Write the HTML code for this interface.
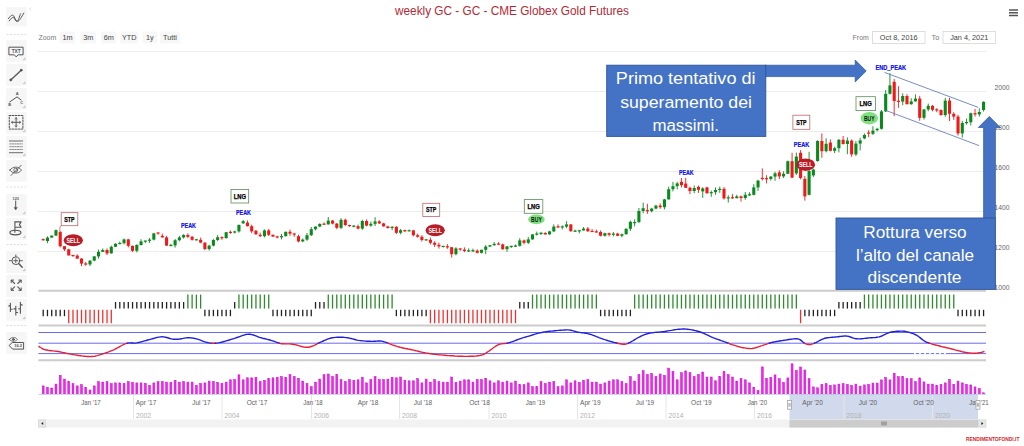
<!DOCTYPE html>
<html lang="it"><head><meta charset="utf-8"><title>weekly GC - GC - CME Globex Gold Futures</title>
<style>html,body{margin:0;padding:0;background:#fff;overflow:hidden}svg{display:block}</style></head>
<body>
<svg width="1024" height="446" viewBox="0 0 1024 446" font-family="Liberation Sans, sans-serif">
<rect width="1024" height="446" fill="#fff"/>
<g id="grid" stroke="#ececec" stroke-width="1">
<line x1="38.4" x2="986" y1="51.5" y2="51.5"/>
<line x1="38.4" x2="986" y1="91.5" y2="91.5"/>
<line x1="38.4" x2="986" y1="131.5" y2="131.5"/>
<line x1="38.4" x2="986" y1="171.5" y2="171.5"/>
<line x1="38.4" x2="986" y1="211.5" y2="211.5"/>
<line x1="38.4" x2="986" y1="251.5" y2="251.5"/>
</g>
<g id="ylabels" font-size="7.2" fill="#666" text-anchor="start">
<text x="994.6" y="90.2" textLength="15" lengthAdjust="spacingAndGlyphs">2000</text>
<text x="994.6" y="130.2" textLength="15" lengthAdjust="spacingAndGlyphs">1800</text>
<text x="994.6" y="170.2" textLength="15" lengthAdjust="spacingAndGlyphs">1600</text>
<text x="994.6" y="210.2" textLength="15" lengthAdjust="spacingAndGlyphs">1400</text>
<text x="994.6" y="250.2" textLength="15" lengthAdjust="spacingAndGlyphs">1200</text>
<text x="994.6" y="290.2" textLength="15" lengthAdjust="spacingAndGlyphs">1000</text>
</g>
<g id="candles">
<line x1="43.20" x2="43.20" y1="238.6" y2="240.6" stroke="#f01818" stroke-width="0.9"/>
<rect x="41.65" y="239.1" width="3.1" height="1.2" fill="#f01818"/>
<line x1="47.46" x2="47.46" y1="236.4" y2="243.2" stroke="#0a8a1e" stroke-width="0.9"/>
<rect x="45.91" y="237.6" width="3.1" height="3.4" fill="#0a8a1e"/>
<line x1="51.71" x2="51.71" y1="235.4" y2="237.8" stroke="#0a8a1e" stroke-width="0.9"/>
<rect x="50.16" y="235.6" width="3.1" height="2.0" fill="#0a8a1e"/>
<line x1="55.97" x2="55.97" y1="229.4" y2="235.8" stroke="#0a8a1e" stroke-width="0.9"/>
<rect x="54.42" y="230.2" width="3.1" height="5.4" fill="#0a8a1e"/>
<line x1="60.22" x2="60.22" y1="231.4" y2="247.4" stroke="#f01818" stroke-width="0.9"/>
<rect x="58.67" y="231.8" width="3.1" height="14.4" fill="#f01818"/>
<line x1="64.47" x2="64.47" y1="246.0" y2="251.0" stroke="#f01818" stroke-width="0.9"/>
<rect x="62.92" y="246.2" width="3.1" height="3.2" fill="#f01818"/>
<line x1="68.73" x2="68.73" y1="248.8" y2="255.6" stroke="#f01818" stroke-width="0.9"/>
<rect x="67.18" y="249.4" width="3.1" height="6.0" fill="#f01818"/>
<line x1="72.98" x2="72.98" y1="255.2" y2="256.8" stroke="#f01818" stroke-width="0.9"/>
<rect x="71.44" y="254.9" width="3.1" height="1.2" fill="#f01818"/>
<line x1="77.24" x2="77.24" y1="254.4" y2="258.8" stroke="#f01818" stroke-width="0.9"/>
<rect x="75.69" y="255.6" width="3.1" height="3.0" fill="#f01818"/>
<line x1="81.50" x2="81.50" y1="258.0" y2="266.2" stroke="#f01818" stroke-width="0.9"/>
<rect x="79.95" y="258.6" width="3.1" height="5.0" fill="#f01818"/>
<line x1="85.75" x2="85.75" y1="262.0" y2="265.8" stroke="#f01818" stroke-width="0.9"/>
<rect x="84.20" y="263.4" width="3.1" height="1.2" fill="#f01818"/>
<line x1="90.00" x2="90.00" y1="260.4" y2="266.0" stroke="#0a8a1e" stroke-width="0.9"/>
<rect x="88.45" y="260.6" width="3.1" height="3.8" fill="#0a8a1e"/>
<line x1="94.26" x2="94.26" y1="256.2" y2="261.2" stroke="#0a8a1e" stroke-width="0.9"/>
<rect x="92.71" y="256.4" width="3.1" height="4.2" fill="#0a8a1e"/>
<line x1="98.52" x2="98.52" y1="249.6" y2="258.6" stroke="#0a8a1e" stroke-width="0.9"/>
<rect x="96.97" y="251.8" width="3.1" height="4.6" fill="#0a8a1e"/>
<line x1="102.77" x2="102.77" y1="248.4" y2="252.0" stroke="#0a8a1e" stroke-width="0.9"/>
<rect x="101.22" y="250.0" width="3.1" height="1.8" fill="#0a8a1e"/>
<line x1="107.03" x2="107.03" y1="248.4" y2="255.0" stroke="#f01818" stroke-width="0.9"/>
<rect x="105.48" y="250.0" width="3.1" height="3.4" fill="#f01818"/>
<line x1="111.28" x2="111.28" y1="245.6" y2="253.6" stroke="#0a8a1e" stroke-width="0.9"/>
<rect x="109.73" y="246.8" width="3.1" height="6.6" fill="#0a8a1e"/>
<line x1="115.53" x2="115.53" y1="243.2" y2="247.0" stroke="#0a8a1e" stroke-width="0.9"/>
<rect x="113.98" y="243.8" width="3.1" height="3.0" fill="#0a8a1e"/>
<line x1="119.79" x2="119.79" y1="241.6" y2="244.4" stroke="#0a8a1e" stroke-width="0.9"/>
<rect x="118.24" y="242.9" width="3.1" height="1.2" fill="#0a8a1e"/>
<line x1="124.05" x2="124.05" y1="238.6" y2="244.4" stroke="#0a8a1e" stroke-width="0.9"/>
<rect x="122.50" y="239.4" width="3.1" height="3.8" fill="#0a8a1e"/>
<line x1="128.30" x2="128.30" y1="238.8" y2="247.4" stroke="#f01818" stroke-width="0.9"/>
<rect x="126.75" y="239.4" width="3.1" height="6.4" fill="#f01818"/>
<line x1="132.56" x2="132.56" y1="245.6" y2="252.0" stroke="#f01818" stroke-width="0.9"/>
<rect x="131.00" y="245.8" width="3.1" height="5.0" fill="#f01818"/>
<line x1="136.81" x2="136.81" y1="244.2" y2="252.4" stroke="#0a8a1e" stroke-width="0.9"/>
<rect x="135.26" y="245.0" width="3.1" height="5.8" fill="#0a8a1e"/>
<line x1="141.06" x2="141.06" y1="239.2" y2="245.6" stroke="#0a8a1e" stroke-width="0.9"/>
<rect x="139.51" y="241.4" width="3.1" height="3.6" fill="#0a8a1e"/>
<line x1="145.32" x2="145.32" y1="240.6" y2="243.0" stroke="#0a8a1e" stroke-width="0.9"/>
<rect x="143.77" y="240.5" width="3.1" height="1.2" fill="#0a8a1e"/>
<line x1="149.57" x2="149.57" y1="238.0" y2="243.0" stroke="#0a8a1e" stroke-width="0.9"/>
<rect x="148.02" y="239.6" width="3.1" height="1.2" fill="#0a8a1e"/>
<line x1="153.83" x2="153.83" y1="232.8" y2="240.4" stroke="#0a8a1e" stroke-width="0.9"/>
<rect x="152.28" y="233.4" width="3.1" height="6.2" fill="#0a8a1e"/>
<line x1="158.08" x2="158.08" y1="232.6" y2="234.8" stroke="#f01818" stroke-width="0.9"/>
<rect x="156.53" y="232.4" width="3.1" height="1.2" fill="#f01818"/>
<line x1="162.34" x2="162.34" y1="233.6" y2="237.6" stroke="#f01818" stroke-width="0.9"/>
<rect x="160.79" y="235.8" width="3.1" height="1.6" fill="#f01818"/>
<line x1="166.59" x2="166.59" y1="235.8" y2="246.0" stroke="#f01818" stroke-width="0.9"/>
<rect x="165.04" y="237.4" width="3.1" height="8.2" fill="#f01818"/>
<line x1="170.85" x2="170.85" y1="243.8" y2="246.2" stroke="#0a8a1e" stroke-width="0.9"/>
<rect x="169.30" y="244.9" width="3.1" height="1.2" fill="#0a8a1e"/>
<line x1="175.11" x2="175.11" y1="239.0" y2="247.6" stroke="#0a8a1e" stroke-width="0.9"/>
<rect x="173.56" y="240.2" width="3.1" height="5.2" fill="#0a8a1e"/>
<line x1="179.36" x2="179.36" y1="235.8" y2="241.4" stroke="#0a8a1e" stroke-width="0.9"/>
<rect x="177.81" y="237.4" width="3.1" height="2.8" fill="#0a8a1e"/>
<line x1="183.62" x2="183.62" y1="234.2" y2="238.6" stroke="#0a8a1e" stroke-width="0.9"/>
<rect x="182.06" y="235.0" width="3.1" height="2.4" fill="#0a8a1e"/>
<line x1="187.87" x2="187.87" y1="233.4" y2="238.0" stroke="#f01818" stroke-width="0.9"/>
<rect x="186.32" y="235.0" width="3.1" height="1.8" fill="#f01818"/>
<line x1="192.12" x2="192.12" y1="236.0" y2="240.6" stroke="#f01818" stroke-width="0.9"/>
<rect x="190.57" y="236.8" width="3.1" height="3.0" fill="#f01818"/>
<line x1="196.38" x2="196.38" y1="239.2" y2="240.4" stroke="#0a8a1e" stroke-width="0.9"/>
<rect x="194.83" y="239.2" width="3.1" height="1.2" fill="#0a8a1e"/>
<line x1="200.63" x2="200.63" y1="237.6" y2="243.2" stroke="#f01818" stroke-width="0.9"/>
<rect x="199.08" y="239.8" width="3.1" height="2.8" fill="#f01818"/>
<line x1="204.89" x2="204.89" y1="242.4" y2="250.2" stroke="#f01818" stroke-width="0.9"/>
<rect x="203.34" y="242.6" width="3.1" height="6.4" fill="#f01818"/>
<line x1="209.14" x2="209.14" y1="244.8" y2="250.6" stroke="#0a8a1e" stroke-width="0.9"/>
<rect x="207.59" y="245.6" width="3.1" height="3.4" fill="#0a8a1e"/>
<line x1="213.40" x2="213.40" y1="238.8" y2="246.4" stroke="#0a8a1e" stroke-width="0.9"/>
<rect x="211.85" y="240.0" width="3.1" height="5.6" fill="#0a8a1e"/>
<line x1="217.65" x2="217.65" y1="235.0" y2="241.2" stroke="#0a8a1e" stroke-width="0.9"/>
<rect x="216.10" y="237.2" width="3.1" height="2.8" fill="#0a8a1e"/>
<line x1="221.91" x2="221.91" y1="236.4" y2="239.8" stroke="#f01818" stroke-width="0.9"/>
<rect x="220.36" y="237.1" width="3.1" height="1.2" fill="#f01818"/>
<line x1="226.17" x2="226.17" y1="232.0" y2="238.4" stroke="#0a8a1e" stroke-width="0.9"/>
<rect x="224.62" y="232.2" width="3.1" height="6.0" fill="#0a8a1e"/>
<line x1="230.42" x2="230.42" y1="230.6" y2="233.8" stroke="#f01818" stroke-width="0.9"/>
<rect x="228.87" y="231.8" width="3.1" height="1.2" fill="#f01818"/>
<line x1="234.68" x2="234.68" y1="230.8" y2="233.4" stroke="#0a8a1e" stroke-width="0.9"/>
<rect x="233.12" y="231.4" width="3.1" height="1.2" fill="#0a8a1e"/>
<line x1="238.93" x2="238.93" y1="224.4" y2="232.6" stroke="#0a8a1e" stroke-width="0.9"/>
<rect x="237.38" y="225.0" width="3.1" height="6.4" fill="#0a8a1e"/>
<line x1="243.19" x2="243.19" y1="220.0" y2="223.6" stroke="#0a8a1e" stroke-width="0.9"/>
<rect x="241.63" y="221.2" width="3.1" height="2.2" fill="#0a8a1e"/>
<line x1="247.44" x2="247.44" y1="220.4" y2="226.4" stroke="#f01818" stroke-width="0.9"/>
<rect x="245.89" y="222.6" width="3.1" height="3.6" fill="#f01818"/>
<line x1="251.69" x2="251.69" y1="224.6" y2="233.0" stroke="#f01818" stroke-width="0.9"/>
<rect x="250.14" y="226.2" width="3.1" height="5.2" fill="#f01818"/>
<line x1="255.95" x2="255.95" y1="230.0" y2="235.0" stroke="#f01818" stroke-width="0.9"/>
<rect x="254.40" y="230.8" width="3.1" height="3.4" fill="#f01818"/>
<line x1="260.20" x2="260.20" y1="232.6" y2="237.0" stroke="#f01818" stroke-width="0.9"/>
<rect x="258.65" y="234.8" width="3.1" height="1.4" fill="#f01818"/>
<line x1="264.46" x2="264.46" y1="229.4" y2="237.4" stroke="#0a8a1e" stroke-width="0.9"/>
<rect x="262.91" y="230.4" width="3.1" height="5.8" fill="#0a8a1e"/>
<line x1="268.71" x2="268.71" y1="228.8" y2="236.0" stroke="#f01818" stroke-width="0.9"/>
<rect x="267.16" y="230.4" width="3.1" height="4.4" fill="#f01818"/>
<line x1="272.97" x2="272.97" y1="234.6" y2="236.8" stroke="#f01818" stroke-width="0.9"/>
<rect x="271.42" y="234.8" width="3.1" height="1.8" fill="#f01818"/>
<line x1="277.23" x2="277.23" y1="235.8" y2="238.4" stroke="#f01818" stroke-width="0.9"/>
<rect x="275.68" y="236.3" width="3.1" height="1.2" fill="#f01818"/>
<line x1="281.48" x2="281.48" y1="234.0" y2="239.4" stroke="#0a8a1e" stroke-width="0.9"/>
<rect x="279.93" y="236.1" width="3.1" height="1.2" fill="#0a8a1e"/>
<line x1="285.74" x2="285.74" y1="231.6" y2="236.4" stroke="#0a8a1e" stroke-width="0.9"/>
<rect x="284.19" y="231.8" width="3.1" height="4.4" fill="#0a8a1e"/>
<line x1="289.99" x2="289.99" y1="229.6" y2="235.8" stroke="#f01818" stroke-width="0.9"/>
<rect x="288.44" y="231.8" width="3.1" height="1.8" fill="#f01818"/>
<line x1="294.25" x2="294.25" y1="232.8" y2="236.8" stroke="#f01818" stroke-width="0.9"/>
<rect x="292.69" y="233.5" width="3.1" height="1.2" fill="#f01818"/>
<line x1="298.50" x2="298.50" y1="234.6" y2="242.4" stroke="#f01818" stroke-width="0.9"/>
<rect x="296.95" y="236.2" width="3.1" height="5.2" fill="#f01818"/>
<line x1="302.75" x2="302.75" y1="238.4" y2="242.2" stroke="#0a8a1e" stroke-width="0.9"/>
<rect x="301.20" y="239.6" width="3.1" height="1.8" fill="#0a8a1e"/>
<line x1="307.01" x2="307.01" y1="233.0" y2="240.8" stroke="#0a8a1e" stroke-width="0.9"/>
<rect x="305.46" y="235.2" width="3.1" height="4.4" fill="#0a8a1e"/>
<line x1="311.26" x2="311.26" y1="227.0" y2="236.0" stroke="#0a8a1e" stroke-width="0.9"/>
<rect x="309.71" y="229.2" width="3.1" height="6.0" fill="#0a8a1e"/>
<line x1="315.52" x2="315.52" y1="226.4" y2="230.4" stroke="#0a8a1e" stroke-width="0.9"/>
<rect x="313.97" y="226.6" width="3.1" height="2.6" fill="#0a8a1e"/>
<line x1="319.77" x2="319.77" y1="223.2" y2="227.2" stroke="#0a8a1e" stroke-width="0.9"/>
<rect x="318.22" y="224.0" width="3.1" height="2.6" fill="#0a8a1e"/>
<line x1="324.03" x2="324.03" y1="222.4" y2="224.6" stroke="#f01818" stroke-width="0.9"/>
<rect x="322.48" y="223.6" width="3.1" height="1.2" fill="#f01818"/>
<line x1="328.28" x2="328.28" y1="217.0" y2="224.6" stroke="#0a8a1e" stroke-width="0.9"/>
<rect x="326.73" y="220.6" width="3.1" height="3.8" fill="#0a8a1e"/>
<line x1="332.54" x2="332.54" y1="220.0" y2="224.4" stroke="#f01818" stroke-width="0.9"/>
<rect x="330.99" y="220.6" width="3.1" height="3.0" fill="#f01818"/>
<line x1="336.79" x2="336.79" y1="223.0" y2="229.2" stroke="#f01818" stroke-width="0.9"/>
<rect x="335.24" y="223.6" width="3.1" height="4.2" fill="#f01818"/>
<line x1="341.05" x2="341.05" y1="218.2" y2="229.0" stroke="#0a8a1e" stroke-width="0.9"/>
<rect x="339.50" y="219.8" width="3.1" height="8.0" fill="#0a8a1e"/>
<line x1="345.31" x2="345.31" y1="218.6" y2="226.2" stroke="#f01818" stroke-width="0.9"/>
<rect x="343.75" y="219.8" width="3.1" height="5.2" fill="#f01818"/>
<line x1="349.56" x2="349.56" y1="224.8" y2="226.8" stroke="#f01818" stroke-width="0.9"/>
<rect x="348.01" y="225.0" width="3.1" height="1.2" fill="#f01818"/>
<line x1="353.81" x2="353.81" y1="225.0" y2="227.4" stroke="#0a8a1e" stroke-width="0.9"/>
<rect x="352.26" y="225.6" width="3.1" height="1.2" fill="#0a8a1e"/>
<line x1="358.07" x2="358.07" y1="224.6" y2="229.4" stroke="#f01818" stroke-width="0.9"/>
<rect x="356.52" y="226.2" width="3.1" height="2.4" fill="#f01818"/>
<line x1="362.32" x2="362.32" y1="219.8" y2="229.8" stroke="#0a8a1e" stroke-width="0.9"/>
<rect x="360.77" y="221.0" width="3.1" height="7.6" fill="#0a8a1e"/>
<line x1="366.58" x2="366.58" y1="219.4" y2="226.4" stroke="#f01818" stroke-width="0.9"/>
<rect x="365.03" y="221.0" width="3.1" height="4.6" fill="#f01818"/>
<line x1="370.83" x2="370.83" y1="221.6" y2="226.8" stroke="#0a8a1e" stroke-width="0.9"/>
<rect x="369.28" y="223.8" width="3.1" height="1.8" fill="#0a8a1e"/>
<line x1="375.09" x2="375.09" y1="217.2" y2="226.0" stroke="#0a8a1e" stroke-width="0.9"/>
<rect x="373.54" y="221.4" width="3.1" height="2.4" fill="#0a8a1e"/>
<line x1="379.34" x2="379.34" y1="220.2" y2="224.0" stroke="#f01818" stroke-width="0.9"/>
<rect x="377.79" y="221.4" width="3.1" height="2.0" fill="#f01818"/>
<line x1="383.60" x2="383.60" y1="222.8" y2="226.6" stroke="#f01818" stroke-width="0.9"/>
<rect x="382.05" y="223.4" width="3.1" height="3.0" fill="#f01818"/>
<line x1="387.85" x2="387.85" y1="225.8" y2="228.6" stroke="#f01818" stroke-width="0.9"/>
<rect x="386.30" y="226.4" width="3.1" height="1.6" fill="#f01818"/>
<line x1="392.11" x2="392.11" y1="226.2" y2="230.2" stroke="#0a8a1e" stroke-width="0.9"/>
<rect x="390.56" y="226.8" width="3.1" height="1.2" fill="#0a8a1e"/>
<line x1="396.36" x2="396.36" y1="226.2" y2="234.0" stroke="#f01818" stroke-width="0.9"/>
<rect x="394.81" y="226.8" width="3.1" height="6.0" fill="#f01818"/>
<line x1="400.62" x2="400.62" y1="229.0" y2="234.4" stroke="#0a8a1e" stroke-width="0.9"/>
<rect x="399.07" y="230.2" width="3.1" height="2.6" fill="#0a8a1e"/>
<line x1="404.88" x2="404.88" y1="229.6" y2="232.0" stroke="#f01818" stroke-width="0.9"/>
<rect x="403.32" y="230.1" width="3.1" height="1.2" fill="#f01818"/>
<line x1="409.13" x2="409.13" y1="229.6" y2="231.4" stroke="#0a8a1e" stroke-width="0.9"/>
<rect x="407.58" y="230.2" width="3.1" height="1.2" fill="#0a8a1e"/>
<line x1="413.38" x2="413.38" y1="229.8" y2="236.4" stroke="#f01818" stroke-width="0.9"/>
<rect x="411.83" y="230.4" width="3.1" height="4.8" fill="#f01818"/>
<line x1="417.64" x2="417.64" y1="233.6" y2="237.6" stroke="#f01818" stroke-width="0.9"/>
<rect x="416.09" y="235.2" width="3.1" height="1.6" fill="#f01818"/>
<line x1="421.89" x2="421.89" y1="235.2" y2="241.6" stroke="#f01818" stroke-width="0.9"/>
<rect x="420.34" y="236.8" width="3.1" height="3.2" fill="#f01818"/>
<line x1="426.15" x2="426.15" y1="239.0" y2="240.6" stroke="#0a8a1e" stroke-width="0.9"/>
<rect x="424.60" y="239.3" width="3.1" height="1.2" fill="#0a8a1e"/>
<line x1="430.40" x2="430.40" y1="237.6" y2="244.4" stroke="#f01818" stroke-width="0.9"/>
<rect x="428.85" y="239.8" width="3.1" height="3.0" fill="#f01818"/>
<line x1="434.66" x2="434.66" y1="241.2" y2="247.0" stroke="#f01818" stroke-width="0.9"/>
<rect x="433.11" y="242.8" width="3.1" height="2.0" fill="#f01818"/>
<line x1="438.91" x2="438.91" y1="242.6" y2="248.6" stroke="#f01818" stroke-width="0.9"/>
<rect x="437.36" y="244.8" width="3.1" height="1.6" fill="#f01818"/>
<line x1="443.17" x2="443.17" y1="246.2" y2="247.6" stroke="#0a8a1e" stroke-width="0.9"/>
<rect x="441.62" y="245.8" width="3.1" height="1.2" fill="#0a8a1e"/>
<line x1="447.42" x2="447.42" y1="244.2" y2="248.8" stroke="#f01818" stroke-width="0.9"/>
<rect x="445.87" y="246.2" width="3.1" height="1.2" fill="#f01818"/>
<line x1="451.68" x2="451.68" y1="247.2" y2="257.6" stroke="#f01818" stroke-width="0.9"/>
<rect x="450.13" y="247.2" width="3.1" height="7.0" fill="#f01818"/>
<line x1="455.94" x2="455.94" y1="247.2" y2="255.4" stroke="#0a8a1e" stroke-width="0.9"/>
<rect x="454.38" y="248.4" width="3.1" height="5.8" fill="#0a8a1e"/>
<line x1="460.19" x2="460.19" y1="248.2" y2="250.8" stroke="#f01818" stroke-width="0.9"/>
<rect x="458.64" y="248.4" width="3.1" height="1.2" fill="#f01818"/>
<line x1="464.44" x2="464.44" y1="247.4" y2="252.2" stroke="#f01818" stroke-width="0.9"/>
<rect x="462.89" y="249.6" width="3.1" height="1.4" fill="#f01818"/>
<line x1="468.70" x2="468.70" y1="248.4" y2="252.0" stroke="#0a8a1e" stroke-width="0.9"/>
<rect x="467.15" y="250.3" width="3.1" height="1.2" fill="#0a8a1e"/>
<line x1="472.95" x2="472.95" y1="248.6" y2="252.0" stroke="#0a8a1e" stroke-width="0.9"/>
<rect x="471.40" y="250.2" width="3.1" height="1.2" fill="#0a8a1e"/>
<line x1="477.21" x2="477.21" y1="249.4" y2="253.4" stroke="#f01818" stroke-width="0.9"/>
<rect x="475.66" y="250.6" width="3.1" height="2.2" fill="#f01818"/>
<line x1="481.46" x2="481.46" y1="249.6" y2="253.6" stroke="#0a8a1e" stroke-width="0.9"/>
<rect x="479.91" y="249.8" width="3.1" height="3.0" fill="#0a8a1e"/>
<line x1="485.72" x2="485.72" y1="245.0" y2="254.2" stroke="#0a8a1e" stroke-width="0.9"/>
<rect x="484.17" y="246.6" width="3.1" height="3.2" fill="#0a8a1e"/>
<line x1="489.97" x2="489.97" y1="245.0" y2="246.8" stroke="#0a8a1e" stroke-width="0.9"/>
<rect x="488.42" y="245.2" width="3.1" height="1.4" fill="#0a8a1e"/>
<line x1="494.23" x2="494.23" y1="242.2" y2="245.8" stroke="#0a8a1e" stroke-width="0.9"/>
<rect x="492.68" y="243.8" width="3.1" height="1.4" fill="#0a8a1e"/>
<line x1="498.48" x2="498.48" y1="242.2" y2="244.6" stroke="#f01818" stroke-width="0.9"/>
<rect x="496.93" y="243.5" width="3.1" height="1.2" fill="#f01818"/>
<line x1="502.74" x2="502.74" y1="243.6" y2="249.8" stroke="#f01818" stroke-width="0.9"/>
<rect x="501.19" y="244.4" width="3.1" height="4.8" fill="#f01818"/>
<line x1="507.00" x2="507.00" y1="246.2" y2="251.8" stroke="#0a8a1e" stroke-width="0.9"/>
<rect x="505.44" y="246.4" width="3.1" height="2.8" fill="#0a8a1e"/>
<line x1="511.25" x2="511.25" y1="245.8" y2="248.0" stroke="#0a8a1e" stroke-width="0.9"/>
<rect x="509.70" y="245.8" width="3.1" height="1.2" fill="#0a8a1e"/>
<line x1="515.50" x2="515.50" y1="244.6" y2="247.0" stroke="#0a8a1e" stroke-width="0.9"/>
<rect x="513.96" y="245.5" width="3.1" height="1.2" fill="#0a8a1e"/>
<line x1="519.76" x2="519.76" y1="238.2" y2="246.6" stroke="#0a8a1e" stroke-width="0.9"/>
<rect x="518.21" y="240.4" width="3.1" height="5.4" fill="#0a8a1e"/>
<line x1="524.01" x2="524.01" y1="239.6" y2="244.4" stroke="#f01818" stroke-width="0.9"/>
<rect x="522.47" y="240.4" width="3.1" height="2.4" fill="#f01818"/>
<line x1="528.27" x2="528.27" y1="237.0" y2="244.0" stroke="#0a8a1e" stroke-width="0.9"/>
<rect x="526.72" y="239.4" width="3.1" height="3.4" fill="#0a8a1e"/>
<line x1="532.52" x2="532.52" y1="234.2" y2="239.6" stroke="#0a8a1e" stroke-width="0.9"/>
<rect x="530.98" y="234.4" width="3.1" height="5.0" fill="#0a8a1e"/>
<line x1="536.78" x2="536.78" y1="231.6" y2="235.6" stroke="#0a8a1e" stroke-width="0.9"/>
<rect x="535.23" y="233.5" width="3.1" height="1.2" fill="#0a8a1e"/>
<line x1="541.03" x2="541.03" y1="231.8" y2="235.0" stroke="#0a8a1e" stroke-width="0.9"/>
<rect x="539.49" y="232.8" width="3.1" height="1.2" fill="#0a8a1e"/>
<line x1="545.29" x2="545.29" y1="232.2" y2="234.6" stroke="#f01818" stroke-width="0.9"/>
<rect x="543.74" y="233.0" width="3.1" height="1.4" fill="#f01818"/>
<line x1="549.54" x2="549.54" y1="230.8" y2="234.6" stroke="#0a8a1e" stroke-width="0.9"/>
<rect x="548.00" y="231.4" width="3.1" height="3.0" fill="#0a8a1e"/>
<line x1="553.80" x2="553.80" y1="224.4" y2="232.2" stroke="#0a8a1e" stroke-width="0.9"/>
<rect x="552.25" y="226.6" width="3.1" height="4.8" fill="#0a8a1e"/>
<line x1="558.06" x2="558.06" y1="224.4" y2="228.0" stroke="#f01818" stroke-width="0.9"/>
<rect x="556.51" y="226.3" width="3.1" height="1.2" fill="#f01818"/>
<line x1="562.31" x2="562.31" y1="225.4" y2="229.4" stroke="#0a8a1e" stroke-width="0.9"/>
<rect x="560.76" y="226.3" width="3.1" height="1.2" fill="#0a8a1e"/>
<line x1="566.57" x2="566.57" y1="221.2" y2="228.2" stroke="#0a8a1e" stroke-width="0.9"/>
<rect x="565.02" y="224.4" width="3.1" height="2.2" fill="#0a8a1e"/>
<line x1="570.82" x2="570.82" y1="224.2" y2="231.8" stroke="#f01818" stroke-width="0.9"/>
<rect x="569.27" y="224.4" width="3.1" height="6.8" fill="#f01818"/>
<line x1="575.08" x2="575.08" y1="229.6" y2="232.0" stroke="#0a8a1e" stroke-width="0.9"/>
<rect x="573.53" y="230.6" width="3.1" height="1.2" fill="#0a8a1e"/>
<line x1="579.33" x2="579.33" y1="229.8" y2="233.4" stroke="#0a8a1e" stroke-width="0.9"/>
<rect x="577.78" y="230.2" width="3.1" height="1.2" fill="#0a8a1e"/>
<line x1="583.59" x2="583.59" y1="227.0" y2="230.6" stroke="#0a8a1e" stroke-width="0.9"/>
<rect x="582.04" y="228.6" width="3.1" height="1.8" fill="#0a8a1e"/>
<line x1="587.84" x2="587.84" y1="227.0" y2="232.0" stroke="#f01818" stroke-width="0.9"/>
<rect x="586.29" y="228.6" width="3.1" height="2.6" fill="#f01818"/>
<line x1="592.10" x2="592.10" y1="229.0" y2="232.0" stroke="#f01818" stroke-width="0.9"/>
<rect x="590.55" y="230.9" width="3.1" height="1.2" fill="#f01818"/>
<line x1="596.35" x2="596.35" y1="229.6" y2="232.8" stroke="#f01818" stroke-width="0.9"/>
<rect x="594.80" y="231.3" width="3.1" height="1.2" fill="#f01818"/>
<line x1="600.61" x2="600.61" y1="230.4" y2="236.4" stroke="#f01818" stroke-width="0.9"/>
<rect x="599.06" y="232.0" width="3.1" height="3.8" fill="#f01818"/>
<line x1="604.86" x2="604.86" y1="232.6" y2="236.6" stroke="#0a8a1e" stroke-width="0.9"/>
<rect x="603.31" y="233.2" width="3.1" height="2.6" fill="#0a8a1e"/>
<line x1="609.12" x2="609.12" y1="232.6" y2="236.4" stroke="#f01818" stroke-width="0.9"/>
<rect x="607.57" y="233.2" width="3.1" height="1.6" fill="#f01818"/>
<line x1="613.37" x2="613.37" y1="232.0" y2="236.4" stroke="#0a8a1e" stroke-width="0.9"/>
<rect x="611.82" y="233.6" width="3.1" height="1.2" fill="#0a8a1e"/>
<line x1="617.62" x2="617.62" y1="232.8" y2="236.2" stroke="#f01818" stroke-width="0.9"/>
<rect x="616.08" y="233.6" width="3.1" height="2.2" fill="#f01818"/>
<line x1="621.88" x2="621.88" y1="233.6" y2="237.4" stroke="#0a8a1e" stroke-width="0.9"/>
<rect x="620.33" y="234.2" width="3.1" height="1.6" fill="#0a8a1e"/>
<line x1="626.13" x2="626.13" y1="228.2" y2="234.8" stroke="#0a8a1e" stroke-width="0.9"/>
<rect x="624.59" y="228.8" width="3.1" height="5.4" fill="#0a8a1e"/>
<line x1="630.39" x2="630.39" y1="220.6" y2="231.0" stroke="#0a8a1e" stroke-width="0.9"/>
<rect x="628.84" y="221.8" width="3.1" height="7.0" fill="#0a8a1e"/>
<line x1="634.64" x2="634.64" y1="219.4" y2="226.4" stroke="#0a8a1e" stroke-width="0.9"/>
<rect x="633.10" y="222.0" width="3.1" height="1.2" fill="#0a8a1e"/>
<line x1="638.90" x2="638.90" y1="208.0" y2="223.2" stroke="#0a8a1e" stroke-width="0.9"/>
<rect x="637.35" y="211.0" width="3.1" height="11.0" fill="#0a8a1e"/>
<line x1="643.16" x2="643.16" y1="202.6" y2="213.2" stroke="#0a8a1e" stroke-width="0.9"/>
<rect x="641.61" y="208.2" width="3.1" height="2.8" fill="#0a8a1e"/>
<line x1="647.41" x2="647.41" y1="203.8" y2="213.8" stroke="#f01818" stroke-width="0.9"/>
<rect x="645.86" y="210.1" width="3.1" height="1.2" fill="#f01818"/>
<line x1="651.67" x2="651.67" y1="207.8" y2="212.4" stroke="#0a8a1e" stroke-width="0.9"/>
<rect x="650.12" y="208.6" width="3.1" height="2.6" fill="#0a8a1e"/>
<line x1="655.92" x2="655.92" y1="204.8" y2="209.2" stroke="#0a8a1e" stroke-width="0.9"/>
<rect x="654.37" y="205.6" width="3.1" height="3.0" fill="#0a8a1e"/>
<line x1="660.18" x2="660.18" y1="203.4" y2="208.8" stroke="#f01818" stroke-width="0.9"/>
<rect x="658.63" y="205.6" width="3.1" height="1.6" fill="#f01818"/>
<line x1="664.43" x2="664.43" y1="198.8" y2="209.4" stroke="#0a8a1e" stroke-width="0.9"/>
<rect x="662.88" y="199.4" width="3.1" height="7.8" fill="#0a8a1e"/>
<line x1="668.69" x2="668.69" y1="186.6" y2="199.6" stroke="#0a8a1e" stroke-width="0.9"/>
<rect x="667.14" y="189.2" width="3.1" height="10.2" fill="#0a8a1e"/>
<line x1="672.94" x2="672.94" y1="181.8" y2="191.4" stroke="#0a8a1e" stroke-width="0.9"/>
<rect x="671.39" y="186.2" width="3.1" height="3.0" fill="#0a8a1e"/>
<line x1="677.20" x2="677.20" y1="181.8" y2="189.4" stroke="#0a8a1e" stroke-width="0.9"/>
<rect x="675.65" y="183.4" width="3.1" height="2.8" fill="#0a8a1e"/>
<line x1="681.45" x2="681.45" y1="178.0" y2="187.4" stroke="#f01818" stroke-width="0.9"/>
<rect x="679.90" y="181.8" width="3.1" height="3.4" fill="#f01818"/>
<line x1="685.71" x2="685.71" y1="177.8" y2="188.0" stroke="#f01818" stroke-width="0.9"/>
<rect x="684.16" y="183.6" width="3.1" height="4.2" fill="#f01818"/>
<line x1="689.96" x2="689.96" y1="186.6" y2="194.2" stroke="#f01818" stroke-width="0.9"/>
<rect x="688.41" y="187.8" width="3.1" height="3.2" fill="#f01818"/>
<line x1="694.22" x2="694.22" y1="185.4" y2="193.2" stroke="#0a8a1e" stroke-width="0.9"/>
<rect x="692.67" y="188.0" width="3.1" height="3.0" fill="#0a8a1e"/>
<line x1="698.47" x2="698.47" y1="185.6" y2="193.0" stroke="#f01818" stroke-width="0.9"/>
<rect x="696.92" y="186.8" width="3.1" height="3.0" fill="#f01818"/>
<line x1="702.73" x2="702.73" y1="187.2" y2="197.8" stroke="#0a8a1e" stroke-width="0.9"/>
<rect x="701.18" y="188.4" width="3.1" height="3.0" fill="#0a8a1e"/>
<line x1="706.98" x2="706.98" y1="186.8" y2="193.8" stroke="#f01818" stroke-width="0.9"/>
<rect x="705.43" y="187.4" width="3.1" height="5.8" fill="#f01818"/>
<line x1="711.24" x2="711.24" y1="190.6" y2="196.8" stroke="#0a8a1e" stroke-width="0.9"/>
<rect x="709.69" y="192.1" width="3.1" height="1.2" fill="#0a8a1e"/>
<line x1="715.49" x2="715.49" y1="187.4" y2="194.8" stroke="#0a8a1e" stroke-width="0.9"/>
<rect x="713.94" y="190.0" width="3.1" height="2.2" fill="#0a8a1e"/>
<line x1="719.75" x2="719.75" y1="186.6" y2="192.8" stroke="#0a8a1e" stroke-width="0.9"/>
<rect x="718.20" y="188.8" width="3.1" height="1.2" fill="#0a8a1e"/>
<line x1="724.00" x2="724.00" y1="187.2" y2="199.6" stroke="#f01818" stroke-width="0.9"/>
<rect x="722.45" y="188.8" width="3.1" height="9.6" fill="#f01818"/>
<line x1="728.25" x2="728.25" y1="195.2" y2="202.6" stroke="#0a8a1e" stroke-width="0.9"/>
<rect x="726.71" y="197.3" width="3.1" height="1.2" fill="#0a8a1e"/>
<line x1="732.51" x2="732.51" y1="194.2" y2="198.8" stroke="#f01818" stroke-width="0.9"/>
<rect x="730.96" y="197.2" width="3.1" height="1.2" fill="#f01818"/>
<line x1="736.76" x2="736.76" y1="194.8" y2="198.4" stroke="#0a8a1e" stroke-width="0.9"/>
<rect x="735.22" y="196.4" width="3.1" height="1.8" fill="#0a8a1e"/>
<line x1="741.02" x2="741.02" y1="195.6" y2="201.6" stroke="#f01818" stroke-width="0.9"/>
<rect x="739.47" y="196.4" width="3.1" height="1.6" fill="#f01818"/>
<line x1="745.27" x2="745.27" y1="192.0" y2="199.8" stroke="#0a8a1e" stroke-width="0.9"/>
<rect x="743.73" y="194.8" width="3.1" height="3.2" fill="#0a8a1e"/>
<line x1="749.53" x2="749.53" y1="192.2" y2="196.0" stroke="#0a8a1e" stroke-width="0.9"/>
<rect x="747.98" y="194.2" width="3.1" height="1.2" fill="#0a8a1e"/>
<line x1="753.79" x2="753.79" y1="184.2" y2="195.4" stroke="#0a8a1e" stroke-width="0.9"/>
<rect x="752.24" y="187.4" width="3.1" height="7.4" fill="#0a8a1e"/>
<line x1="758.04" x2="758.04" y1="179.8" y2="191.0" stroke="#0a8a1e" stroke-width="0.9"/>
<rect x="756.49" y="180.6" width="3.1" height="6.8" fill="#0a8a1e"/>
<line x1="762.30" x2="762.30" y1="168.4" y2="180.6" stroke="#f01818" stroke-width="0.9"/>
<rect x="760.75" y="177.8" width="3.1" height="1.2" fill="#f01818"/>
<line x1="766.55" x2="766.55" y1="175.2" y2="183.4" stroke="#f01818" stroke-width="0.9"/>
<rect x="765.00" y="178.1" width="3.1" height="1.2" fill="#f01818"/>
<line x1="770.81" x2="770.81" y1="176.0" y2="180.6" stroke="#0a8a1e" stroke-width="0.9"/>
<rect x="769.26" y="176.6" width="3.1" height="2.4" fill="#0a8a1e"/>
<line x1="775.06" x2="775.06" y1="171.8" y2="180.8" stroke="#0a8a1e" stroke-width="0.9"/>
<rect x="773.51" y="173.4" width="3.1" height="3.2" fill="#0a8a1e"/>
<line x1="779.32" x2="779.32" y1="170.2" y2="179.2" stroke="#f01818" stroke-width="0.9"/>
<rect x="777.77" y="172.4" width="3.1" height="4.0" fill="#f01818"/>
<line x1="783.57" x2="783.57" y1="171.2" y2="178.0" stroke="#0a8a1e" stroke-width="0.9"/>
<rect x="782.02" y="173.8" width="3.1" height="2.6" fill="#0a8a1e"/>
<line x1="787.83" x2="787.83" y1="160.6" y2="174.0" stroke="#0a8a1e" stroke-width="0.9"/>
<rect x="786.28" y="161.2" width="3.1" height="12.6" fill="#0a8a1e"/>
<line x1="792.08" x2="792.08" y1="152.8" y2="178.2" stroke="#f01818" stroke-width="0.9"/>
<rect x="790.53" y="161.2" width="3.1" height="16.4" fill="#f01818"/>
<line x1="796.34" x2="796.34" y1="152.6" y2="175.0" stroke="#0a8a1e" stroke-width="0.9"/>
<rect x="794.79" y="156.6" width="3.1" height="16.8" fill="#0a8a1e"/>
<line x1="800.59" x2="800.59" y1="150.2" y2="179.4" stroke="#f01818" stroke-width="0.9"/>
<rect x="799.04" y="152.8" width="3.1" height="25.2" fill="#f01818"/>
<line x1="804.85" x2="804.85" y1="176.0" y2="200.6" stroke="#f01818" stroke-width="0.9"/>
<rect x="803.30" y="178.8" width="3.1" height="17.6" fill="#f01818"/>
<line x1="809.10" x2="809.10" y1="151.8" y2="195.4" stroke="#0a8a1e" stroke-width="0.9"/>
<rect x="807.55" y="171.0" width="3.1" height="23.8" fill="#0a8a1e"/>
<line x1="813.36" x2="813.36" y1="168.6" y2="177.0" stroke="#0a8a1e" stroke-width="0.9"/>
<rect x="811.81" y="169.6" width="3.1" height="5.8" fill="#0a8a1e"/>
<line x1="817.61" x2="817.61" y1="140.2" y2="161.8" stroke="#0a8a1e" stroke-width="0.9"/>
<rect x="816.06" y="141.0" width="3.1" height="20.0" fill="#0a8a1e"/>
<line x1="821.87" x2="821.87" y1="133.4" y2="157.8" stroke="#f01818" stroke-width="0.9"/>
<rect x="820.32" y="141.0" width="3.1" height="10.2" fill="#f01818"/>
<line x1="826.12" x2="826.12" y1="138.2" y2="152.4" stroke="#0a8a1e" stroke-width="0.9"/>
<rect x="824.57" y="143.8" width="3.1" height="7.4" fill="#0a8a1e"/>
<line x1="830.38" x2="830.38" y1="139.4" y2="151.4" stroke="#f01818" stroke-width="0.9"/>
<rect x="828.83" y="142.6" width="3.1" height="8.2" fill="#f01818"/>
<line x1="834.63" x2="834.63" y1="146.6" y2="153.0" stroke="#0a8a1e" stroke-width="0.9"/>
<rect x="833.08" y="148.2" width="3.1" height="2.6" fill="#0a8a1e"/>
<line x1="838.88" x2="838.88" y1="139.0" y2="152.4" stroke="#0a8a1e" stroke-width="0.9"/>
<rect x="837.34" y="139.8" width="3.1" height="8.4" fill="#0a8a1e"/>
<line x1="843.14" x2="843.14" y1="136.0" y2="144.6" stroke="#f01818" stroke-width="0.9"/>
<rect x="841.59" y="139.8" width="3.1" height="4.2" fill="#f01818"/>
<line x1="847.39" x2="847.39" y1="137.4" y2="154.2" stroke="#0a8a1e" stroke-width="0.9"/>
<rect x="845.85" y="140.6" width="3.1" height="3.4" fill="#0a8a1e"/>
<line x1="851.65" x2="851.65" y1="139.4" y2="156.8" stroke="#f01818" stroke-width="0.9"/>
<rect x="850.10" y="140.6" width="3.1" height="13.8" fill="#f01818"/>
<line x1="855.90" x2="855.90" y1="141.0" y2="156.0" stroke="#0a8a1e" stroke-width="0.9"/>
<rect x="854.36" y="143.6" width="3.1" height="10.8" fill="#0a8a1e"/>
<line x1="860.16" x2="860.16" y1="137.8" y2="150.4" stroke="#0a8a1e" stroke-width="0.9"/>
<rect x="858.61" y="140.4" width="3.1" height="3.2" fill="#0a8a1e"/>
<line x1="864.42" x2="864.42" y1="133.4" y2="139.2" stroke="#0a8a1e" stroke-width="0.9"/>
<rect x="862.87" y="135.0" width="3.1" height="3.4" fill="#0a8a1e"/>
<line x1="868.67" x2="868.67" y1="130.2" y2="137.2" stroke="#f01818" stroke-width="0.9"/>
<rect x="867.12" y="132.5" width="3.1" height="1.2" fill="#f01818"/>
<line x1="872.93" x2="872.93" y1="126.2" y2="135.0" stroke="#0a8a1e" stroke-width="0.9"/>
<rect x="871.38" y="130.6" width="3.1" height="3.2" fill="#0a8a1e"/>
<line x1="877.18" x2="877.18" y1="127.8" y2="131.4" stroke="#0a8a1e" stroke-width="0.9"/>
<rect x="875.63" y="128.8" width="3.1" height="1.4" fill="#0a8a1e"/>
<line x1="881.44" x2="881.44" y1="110.0" y2="129.6" stroke="#0a8a1e" stroke-width="0.9"/>
<rect x="879.89" y="111.4" width="3.1" height="17.4" fill="#0a8a1e"/>
<line x1="885.69" x2="885.69" y1="90.0" y2="112.0" stroke="#0a8a1e" stroke-width="0.9"/>
<rect x="884.14" y="93.8" width="3.1" height="17.6" fill="#0a8a1e"/>
<line x1="889.95" x2="889.95" y1="73.2" y2="94.6" stroke="#0a8a1e" stroke-width="0.9"/>
<rect x="888.40" y="85.4" width="3.1" height="8.4" fill="#0a8a1e"/>
<line x1="894.20" x2="894.20" y1="79.0" y2="116.2" stroke="#f01818" stroke-width="0.9"/>
<rect x="892.65" y="81.8" width="3.1" height="19.2" fill="#f01818"/>
<line x1="898.46" x2="898.46" y1="86.2" y2="107.8" stroke="#f01818" stroke-width="0.9"/>
<rect x="896.91" y="100.7" width="3.1" height="1.2" fill="#f01818"/>
<line x1="902.71" x2="902.71" y1="93.4" y2="105.2" stroke="#0a8a1e" stroke-width="0.9"/>
<rect x="901.16" y="96.0" width="3.1" height="5.6" fill="#0a8a1e"/>
<line x1="906.97" x2="906.97" y1="94.2" y2="104.4" stroke="#f01818" stroke-width="0.9"/>
<rect x="905.42" y="96.0" width="3.1" height="8.2" fill="#f01818"/>
<line x1="911.22" x2="911.22" y1="98.2" y2="104.8" stroke="#0a8a1e" stroke-width="0.9"/>
<rect x="909.67" y="101.4" width="3.1" height="2.8" fill="#0a8a1e"/>
<line x1="915.48" x2="915.48" y1="94.4" y2="101.6" stroke="#0a8a1e" stroke-width="0.9"/>
<rect x="913.93" y="98.6" width="3.1" height="2.8" fill="#0a8a1e"/>
<line x1="919.73" x2="919.73" y1="95.8" y2="120.8" stroke="#f01818" stroke-width="0.9"/>
<rect x="918.18" y="98.6" width="3.1" height="19.2" fill="#f01818"/>
<line x1="923.99" x2="923.99" y1="109.2" y2="119.6" stroke="#0a8a1e" stroke-width="0.9"/>
<rect x="922.44" y="109.4" width="3.1" height="8.4" fill="#0a8a1e"/>
<line x1="928.24" x2="928.24" y1="103.6" y2="111.2" stroke="#0a8a1e" stroke-width="0.9"/>
<rect x="926.69" y="105.8" width="3.1" height="3.6" fill="#0a8a1e"/>
<line x1="932.50" x2="932.50" y1="105.0" y2="111.4" stroke="#f01818" stroke-width="0.9"/>
<rect x="930.95" y="105.8" width="3.1" height="4.0" fill="#f01818"/>
<line x1="936.75" x2="936.75" y1="108.2" y2="112.2" stroke="#f01818" stroke-width="0.9"/>
<rect x="935.20" y="109.3" width="3.1" height="1.2" fill="#f01818"/>
<line x1="941.00" x2="941.00" y1="109.4" y2="115.8" stroke="#f01818" stroke-width="0.9"/>
<rect x="939.46" y="110.0" width="3.1" height="5.0" fill="#f01818"/>
<line x1="945.26" x2="945.26" y1="97.8" y2="116.8" stroke="#0a8a1e" stroke-width="0.9"/>
<rect x="943.71" y="100.6" width="3.1" height="14.4" fill="#0a8a1e"/>
<line x1="949.51" x2="949.51" y1="97.8" y2="121.0" stroke="#f01818" stroke-width="0.9"/>
<rect x="947.97" y="100.6" width="3.1" height="13.2" fill="#f01818"/>
<line x1="953.77" x2="953.77" y1="112.2" y2="119.8" stroke="#f01818" stroke-width="0.9"/>
<rect x="952.22" y="113.8" width="3.1" height="2.8" fill="#f01818"/>
<line x1="958.02" x2="958.02" y1="114.8" y2="135.6" stroke="#f01818" stroke-width="0.9"/>
<rect x="956.48" y="116.6" width="3.1" height="16.8" fill="#f01818"/>
<line x1="962.28" x2="962.28" y1="120.8" y2="137.6" stroke="#0a8a1e" stroke-width="0.9"/>
<rect x="960.73" y="123.0" width="3.1" height="10.4" fill="#0a8a1e"/>
<line x1="966.53" x2="966.53" y1="118.6" y2="124.6" stroke="#0a8a1e" stroke-width="0.9"/>
<rect x="964.99" y="122.0" width="3.1" height="1.2" fill="#0a8a1e"/>
<line x1="970.79" x2="970.79" y1="112.6" y2="125.4" stroke="#0a8a1e" stroke-width="0.9"/>
<rect x="969.24" y="113.2" width="3.1" height="9.0" fill="#0a8a1e"/>
<line x1="975.05" x2="975.05" y1="109.0" y2="116.6" stroke="#f01818" stroke-width="0.9"/>
<rect x="973.50" y="113.2" width="3.1" height="1.2" fill="#f01818"/>
<line x1="979.30" x2="979.30" y1="108.4" y2="116.6" stroke="#0a8a1e" stroke-width="0.9"/>
<rect x="977.75" y="112.0" width="3.1" height="2.4" fill="#0a8a1e"/>
<line x1="983.56" x2="983.56" y1="101.4" y2="111.6" stroke="#0a8a1e" stroke-width="0.9"/>
<rect x="982.01" y="101.8" width="3.1" height="8.2" fill="#0a8a1e"/>
</g>
<g id="panelines" stroke="#cccccc" stroke-width="2">
<line x1="38.4" x2="986" y1="290.8" y2="290.8"/>
<line x1="38.4" x2="986" y1="325.6" y2="325.6"/>
<line x1="38.4" x2="986" y1="360.2" y2="360.2"/>
</g>
<g id="trend" stroke-width="1.3">
<line x1="43.20" x2="43.20" y1="309.8" y2="316.2" stroke="#222"/>
<line x1="47.46" x2="47.46" y1="309.8" y2="316.2" stroke="#222"/>
<line x1="51.71" x2="51.71" y1="309.8" y2="316.2" stroke="#222"/>
<line x1="55.97" x2="55.97" y1="309.8" y2="316.2" stroke="#222"/>
<line x1="60.22" x2="60.22" y1="309.8" y2="316.2" stroke="#222"/>
<line x1="64.47" x2="64.47" y1="309.8" y2="316.2" stroke="#222"/>
<line x1="68.73" x2="68.73" y1="309.8" y2="323.2" stroke="#f03030"/>
<line x1="72.98" x2="72.98" y1="309.8" y2="323.2" stroke="#f03030"/>
<line x1="77.24" x2="77.24" y1="309.8" y2="323.2" stroke="#f03030"/>
<line x1="81.50" x2="81.50" y1="309.8" y2="323.2" stroke="#f03030"/>
<line x1="85.75" x2="85.75" y1="309.8" y2="323.2" stroke="#f03030"/>
<line x1="90.00" x2="90.00" y1="309.8" y2="323.2" stroke="#f03030"/>
<line x1="94.26" x2="94.26" y1="309.8" y2="323.2" stroke="#f03030"/>
<line x1="98.52" x2="98.52" y1="309.8" y2="323.2" stroke="#f03030"/>
<line x1="102.77" x2="102.77" y1="309.8" y2="323.2" stroke="#f03030"/>
<line x1="107.03" x2="107.03" y1="309.8" y2="323.2" stroke="#f03030"/>
<line x1="111.28" x2="111.28" y1="309.8" y2="323.2" stroke="#f03030"/>
<line x1="115.53" x2="115.53" y1="302.0" y2="308.6" stroke="#222"/>
<line x1="119.79" x2="119.79" y1="302.0" y2="308.6" stroke="#222"/>
<line x1="124.05" x2="124.05" y1="302.0" y2="308.6" stroke="#222"/>
<line x1="128.30" x2="128.30" y1="302.0" y2="308.6" stroke="#222"/>
<line x1="132.56" x2="132.56" y1="302.0" y2="308.6" stroke="#222"/>
<line x1="136.81" x2="136.81" y1="302.0" y2="308.6" stroke="#222"/>
<line x1="141.06" x2="141.06" y1="302.0" y2="308.6" stroke="#222"/>
<line x1="145.32" x2="145.32" y1="302.0" y2="308.6" stroke="#222"/>
<line x1="149.57" x2="149.57" y1="302.0" y2="308.6" stroke="#222"/>
<line x1="153.83" x2="153.83" y1="302.0" y2="308.6" stroke="#222"/>
<line x1="158.08" x2="158.08" y1="302.0" y2="308.6" stroke="#222"/>
<line x1="162.34" x2="162.34" y1="302.0" y2="308.6" stroke="#222"/>
<line x1="166.59" x2="166.59" y1="302.0" y2="308.6" stroke="#222"/>
<line x1="170.85" x2="170.85" y1="302.0" y2="308.6" stroke="#222"/>
<line x1="175.11" x2="175.11" y1="302.0" y2="308.6" stroke="#222"/>
<line x1="179.36" x2="179.36" y1="302.0" y2="308.6" stroke="#222"/>
<line x1="183.62" x2="183.62" y1="302.0" y2="308.6" stroke="#222"/>
<line x1="187.87" x2="187.87" y1="294.6" y2="308.6" stroke="#2e8b2e"/>
<line x1="192.12" x2="192.12" y1="294.6" y2="308.6" stroke="#2e8b2e"/>
<line x1="196.38" x2="196.38" y1="294.6" y2="308.6" stroke="#2e8b2e"/>
<line x1="200.63" x2="200.63" y1="294.6" y2="308.6" stroke="#2e8b2e"/>
<line x1="204.89" x2="204.89" y1="309.8" y2="316.2" stroke="#222"/>
<line x1="209.14" x2="209.14" y1="309.8" y2="316.2" stroke="#222"/>
<line x1="213.40" x2="213.40" y1="309.8" y2="316.2" stroke="#222"/>
<line x1="217.65" x2="217.65" y1="309.8" y2="316.2" stroke="#222"/>
<line x1="221.91" x2="221.91" y1="309.8" y2="316.2" stroke="#222"/>
<line x1="226.17" x2="226.17" y1="309.8" y2="316.2" stroke="#222"/>
<line x1="230.42" x2="230.42" y1="309.8" y2="316.2" stroke="#222"/>
<line x1="234.68" x2="234.68" y1="302.0" y2="308.6" stroke="#222"/>
<line x1="238.93" x2="238.93" y1="294.6" y2="308.6" stroke="#2e8b2e"/>
<line x1="243.19" x2="243.19" y1="294.6" y2="308.6" stroke="#2e8b2e"/>
<line x1="247.44" x2="247.44" y1="294.6" y2="308.6" stroke="#2e8b2e"/>
<line x1="251.69" x2="251.69" y1="294.6" y2="308.6" stroke="#2e8b2e"/>
<line x1="255.95" x2="255.95" y1="294.6" y2="308.6" stroke="#2e8b2e"/>
<line x1="260.20" x2="260.20" y1="294.6" y2="308.6" stroke="#2e8b2e"/>
<line x1="264.46" x2="264.46" y1="294.6" y2="308.6" stroke="#2e8b2e"/>
<line x1="268.71" x2="268.71" y1="294.6" y2="308.6" stroke="#2e8b2e"/>
<line x1="272.97" x2="272.97" y1="309.8" y2="316.2" stroke="#222"/>
<line x1="277.23" x2="277.23" y1="309.8" y2="316.2" stroke="#222"/>
<line x1="281.48" x2="281.48" y1="309.8" y2="316.2" stroke="#222"/>
<line x1="285.74" x2="285.74" y1="309.8" y2="316.2" stroke="#222"/>
<line x1="289.99" x2="289.99" y1="309.8" y2="316.2" stroke="#222"/>
<line x1="294.25" x2="294.25" y1="309.8" y2="316.2" stroke="#222"/>
<line x1="298.50" x2="298.50" y1="309.8" y2="316.2" stroke="#222"/>
<line x1="302.75" x2="302.75" y1="309.8" y2="316.2" stroke="#222"/>
<line x1="307.01" x2="307.01" y1="309.8" y2="316.2" stroke="#222"/>
<line x1="311.26" x2="311.26" y1="309.8" y2="316.2" stroke="#222"/>
<line x1="315.52" x2="315.52" y1="302.0" y2="308.6" stroke="#222"/>
<line x1="319.77" x2="319.77" y1="302.0" y2="308.6" stroke="#222"/>
<line x1="324.03" x2="324.03" y1="302.0" y2="308.6" stroke="#222"/>
<line x1="328.28" x2="328.28" y1="294.6" y2="308.6" stroke="#2e8b2e"/>
<line x1="332.54" x2="332.54" y1="294.6" y2="308.6" stroke="#2e8b2e"/>
<line x1="336.79" x2="336.79" y1="294.6" y2="308.6" stroke="#2e8b2e"/>
<line x1="341.05" x2="341.05" y1="294.6" y2="308.6" stroke="#2e8b2e"/>
<line x1="345.31" x2="345.31" y1="294.6" y2="308.6" stroke="#2e8b2e"/>
<line x1="349.56" x2="349.56" y1="294.6" y2="308.6" stroke="#2e8b2e"/>
<line x1="353.81" x2="353.81" y1="294.6" y2="308.6" stroke="#2e8b2e"/>
<line x1="358.07" x2="358.07" y1="294.6" y2="308.6" stroke="#2e8b2e"/>
<line x1="362.32" x2="362.32" y1="294.6" y2="308.6" stroke="#2e8b2e"/>
<line x1="366.58" x2="366.58" y1="294.6" y2="308.6" stroke="#2e8b2e"/>
<line x1="370.83" x2="370.83" y1="294.6" y2="308.6" stroke="#2e8b2e"/>
<line x1="375.09" x2="375.09" y1="294.6" y2="308.6" stroke="#2e8b2e"/>
<line x1="379.34" x2="379.34" y1="294.6" y2="308.6" stroke="#2e8b2e"/>
<line x1="383.60" x2="383.60" y1="294.6" y2="308.6" stroke="#2e8b2e"/>
<line x1="387.85" x2="387.85" y1="294.6" y2="308.6" stroke="#2e8b2e"/>
<line x1="392.11" x2="392.11" y1="294.6" y2="308.6" stroke="#2e8b2e"/>
<line x1="396.36" x2="396.36" y1="309.8" y2="316.2" stroke="#222"/>
<line x1="400.62" x2="400.62" y1="309.8" y2="316.2" stroke="#222"/>
<line x1="404.88" x2="404.88" y1="309.8" y2="316.2" stroke="#222"/>
<line x1="409.13" x2="409.13" y1="309.8" y2="316.2" stroke="#222"/>
<line x1="413.38" x2="413.38" y1="309.8" y2="316.2" stroke="#222"/>
<line x1="417.64" x2="417.64" y1="309.8" y2="316.2" stroke="#222"/>
<line x1="421.89" x2="421.89" y1="309.8" y2="316.2" stroke="#222"/>
<line x1="426.15" x2="426.15" y1="309.8" y2="316.2" stroke="#222"/>
<line x1="430.40" x2="430.40" y1="309.8" y2="323.2" stroke="#f03030"/>
<line x1="434.66" x2="434.66" y1="309.8" y2="323.2" stroke="#f03030"/>
<line x1="438.91" x2="438.91" y1="309.8" y2="323.2" stroke="#f03030"/>
<line x1="443.17" x2="443.17" y1="309.8" y2="323.2" stroke="#f03030"/>
<line x1="447.42" x2="447.42" y1="309.8" y2="323.2" stroke="#f03030"/>
<line x1="451.68" x2="451.68" y1="309.8" y2="323.2" stroke="#f03030"/>
<line x1="455.94" x2="455.94" y1="309.8" y2="323.2" stroke="#f03030"/>
<line x1="460.19" x2="460.19" y1="309.8" y2="323.2" stroke="#f03030"/>
<line x1="464.44" x2="464.44" y1="309.8" y2="323.2" stroke="#f03030"/>
<line x1="468.70" x2="468.70" y1="309.8" y2="323.2" stroke="#f03030"/>
<line x1="472.95" x2="472.95" y1="309.8" y2="323.2" stroke="#f03030"/>
<line x1="477.21" x2="477.21" y1="309.8" y2="323.2" stroke="#f03030"/>
<line x1="481.46" x2="481.46" y1="309.8" y2="323.2" stroke="#f03030"/>
<line x1="485.72" x2="485.72" y1="309.8" y2="323.2" stroke="#f03030"/>
<line x1="489.97" x2="489.97" y1="309.8" y2="323.2" stroke="#f03030"/>
<line x1="494.23" x2="494.23" y1="309.8" y2="323.2" stroke="#f03030"/>
<line x1="498.48" x2="498.48" y1="309.8" y2="323.2" stroke="#f03030"/>
<line x1="502.74" x2="502.74" y1="309.8" y2="323.2" stroke="#f03030"/>
<line x1="507.00" x2="507.00" y1="309.8" y2="323.2" stroke="#f03030"/>
<line x1="511.25" x2="511.25" y1="309.8" y2="323.2" stroke="#f03030"/>
<line x1="515.50" x2="515.50" y1="309.8" y2="323.2" stroke="#f03030"/>
<line x1="519.76" x2="519.76" y1="302.0" y2="308.6" stroke="#222"/>
<line x1="524.01" x2="524.01" y1="302.0" y2="308.6" stroke="#222"/>
<line x1="528.27" x2="528.27" y1="302.0" y2="308.6" stroke="#222"/>
<line x1="532.52" x2="532.52" y1="294.6" y2="308.6" stroke="#2e8b2e"/>
<line x1="536.78" x2="536.78" y1="294.6" y2="308.6" stroke="#2e8b2e"/>
<line x1="541.03" x2="541.03" y1="294.6" y2="308.6" stroke="#2e8b2e"/>
<line x1="545.29" x2="545.29" y1="294.6" y2="308.6" stroke="#2e8b2e"/>
<line x1="549.54" x2="549.54" y1="294.6" y2="308.6" stroke="#2e8b2e"/>
<line x1="553.80" x2="553.80" y1="294.6" y2="308.6" stroke="#2e8b2e"/>
<line x1="558.06" x2="558.06" y1="294.6" y2="308.6" stroke="#2e8b2e"/>
<line x1="562.31" x2="562.31" y1="294.6" y2="308.6" stroke="#2e8b2e"/>
<line x1="566.57" x2="566.57" y1="294.6" y2="308.6" stroke="#2e8b2e"/>
<line x1="570.82" x2="570.82" y1="294.6" y2="308.6" stroke="#2e8b2e"/>
<line x1="575.08" x2="575.08" y1="294.6" y2="308.6" stroke="#2e8b2e"/>
<line x1="579.33" x2="579.33" y1="294.6" y2="308.6" stroke="#2e8b2e"/>
<line x1="583.59" x2="583.59" y1="294.6" y2="308.6" stroke="#2e8b2e"/>
<line x1="587.84" x2="587.84" y1="294.6" y2="308.6" stroke="#2e8b2e"/>
<line x1="592.10" x2="592.10" y1="294.6" y2="308.6" stroke="#2e8b2e"/>
<line x1="596.35" x2="596.35" y1="294.6" y2="308.6" stroke="#2e8b2e"/>
<line x1="600.61" x2="600.61" y1="309.8" y2="316.2" stroke="#222"/>
<line x1="604.86" x2="604.86" y1="309.8" y2="316.2" stroke="#222"/>
<line x1="609.12" x2="609.12" y1="309.8" y2="316.2" stroke="#222"/>
<line x1="613.37" x2="613.37" y1="309.8" y2="316.2" stroke="#222"/>
<line x1="617.62" x2="617.62" y1="309.8" y2="316.2" stroke="#222"/>
<line x1="621.88" x2="621.88" y1="309.8" y2="316.2" stroke="#222"/>
<line x1="626.13" x2="626.13" y1="309.8" y2="316.2" stroke="#222"/>
<line x1="630.39" x2="630.39" y1="309.8" y2="316.2" stroke="#222"/>
<line x1="634.64" x2="634.64" y1="294.6" y2="308.6" stroke="#2e8b2e"/>
<line x1="638.90" x2="638.90" y1="294.6" y2="308.6" stroke="#2e8b2e"/>
<line x1="643.16" x2="643.16" y1="294.6" y2="308.6" stroke="#2e8b2e"/>
<line x1="647.41" x2="647.41" y1="294.6" y2="308.6" stroke="#2e8b2e"/>
<line x1="651.67" x2="651.67" y1="294.6" y2="308.6" stroke="#2e8b2e"/>
<line x1="655.92" x2="655.92" y1="294.6" y2="308.6" stroke="#2e8b2e"/>
<line x1="660.18" x2="660.18" y1="294.6" y2="308.6" stroke="#2e8b2e"/>
<line x1="664.43" x2="664.43" y1="294.6" y2="308.6" stroke="#2e8b2e"/>
<line x1="668.69" x2="668.69" y1="294.6" y2="308.6" stroke="#2e8b2e"/>
<line x1="672.94" x2="672.94" y1="294.6" y2="308.6" stroke="#2e8b2e"/>
<line x1="677.20" x2="677.20" y1="294.6" y2="308.6" stroke="#2e8b2e"/>
<line x1="681.45" x2="681.45" y1="294.6" y2="308.6" stroke="#2e8b2e"/>
<line x1="685.71" x2="685.71" y1="294.6" y2="308.6" stroke="#2e8b2e"/>
<line x1="689.96" x2="689.96" y1="294.6" y2="308.6" stroke="#2e8b2e"/>
<line x1="694.22" x2="694.22" y1="294.6" y2="308.6" stroke="#2e8b2e"/>
<line x1="698.47" x2="698.47" y1="294.6" y2="308.6" stroke="#2e8b2e"/>
<line x1="702.73" x2="702.73" y1="294.6" y2="308.6" stroke="#2e8b2e"/>
<line x1="706.98" x2="706.98" y1="294.6" y2="308.6" stroke="#2e8b2e"/>
<line x1="711.24" x2="711.24" y1="294.6" y2="308.6" stroke="#2e8b2e"/>
<line x1="715.49" x2="715.49" y1="294.6" y2="308.6" stroke="#2e8b2e"/>
<line x1="719.75" x2="719.75" y1="294.6" y2="308.6" stroke="#2e8b2e"/>
<line x1="724.00" x2="724.00" y1="294.6" y2="308.6" stroke="#2e8b2e"/>
<line x1="728.25" x2="728.25" y1="294.6" y2="308.6" stroke="#2e8b2e"/>
<line x1="732.51" x2="732.51" y1="294.6" y2="308.6" stroke="#2e8b2e"/>
<line x1="736.76" x2="736.76" y1="294.6" y2="308.6" stroke="#2e8b2e"/>
<line x1="741.02" x2="741.02" y1="294.6" y2="308.6" stroke="#2e8b2e"/>
<line x1="745.27" x2="745.27" y1="294.6" y2="308.6" stroke="#2e8b2e"/>
<line x1="749.53" x2="749.53" y1="294.6" y2="308.6" stroke="#2e8b2e"/>
<line x1="753.79" x2="753.79" y1="294.6" y2="308.6" stroke="#2e8b2e"/>
<line x1="758.04" x2="758.04" y1="294.6" y2="308.6" stroke="#2e8b2e"/>
<line x1="762.30" x2="762.30" y1="294.6" y2="308.6" stroke="#2e8b2e"/>
<line x1="766.55" x2="766.55" y1="294.6" y2="308.6" stroke="#2e8b2e"/>
<line x1="770.81" x2="770.81" y1="294.6" y2="308.6" stroke="#2e8b2e"/>
<line x1="775.06" x2="775.06" y1="294.6" y2="308.6" stroke="#2e8b2e"/>
<line x1="779.32" x2="779.32" y1="294.6" y2="308.6" stroke="#2e8b2e"/>
<line x1="783.57" x2="783.57" y1="294.6" y2="308.6" stroke="#2e8b2e"/>
<line x1="787.83" x2="787.83" y1="294.6" y2="308.6" stroke="#2e8b2e"/>
<line x1="792.08" x2="792.08" y1="294.6" y2="308.6" stroke="#2e8b2e"/>
<line x1="796.34" x2="796.34" y1="294.6" y2="308.6" stroke="#2e8b2e"/>
<line x1="800.59" x2="800.59" y1="309.8" y2="323.2" stroke="#f03030"/>
<line x1="804.85" x2="804.85" y1="309.8" y2="316.2" stroke="#222"/>
<line x1="809.10" x2="809.10" y1="309.8" y2="316.2" stroke="#222"/>
<line x1="813.36" x2="813.36" y1="309.8" y2="316.2" stroke="#222"/>
<line x1="817.61" x2="817.61" y1="309.8" y2="316.2" stroke="#222"/>
<line x1="821.87" x2="821.87" y1="309.8" y2="316.2" stroke="#222"/>
<line x1="826.12" x2="826.12" y1="309.8" y2="316.2" stroke="#222"/>
<line x1="830.38" x2="830.38" y1="309.8" y2="316.2" stroke="#222"/>
<line x1="834.63" x2="834.63" y1="309.8" y2="316.2" stroke="#222"/>
<line x1="838.88" x2="838.88" y1="302.0" y2="308.6" stroke="#222"/>
<line x1="843.14" x2="843.14" y1="302.0" y2="308.6" stroke="#222"/>
<line x1="847.39" x2="847.39" y1="302.0" y2="308.6" stroke="#222"/>
<line x1="851.65" x2="851.65" y1="302.0" y2="308.6" stroke="#222"/>
<line x1="855.90" x2="855.90" y1="302.0" y2="308.6" stroke="#222"/>
<line x1="860.16" x2="860.16" y1="302.0" y2="308.6" stroke="#222"/>
<line x1="864.42" x2="864.42" y1="294.6" y2="308.6" stroke="#2e8b2e"/>
<line x1="868.67" x2="868.67" y1="294.6" y2="308.6" stroke="#2e8b2e"/>
<line x1="872.93" x2="872.93" y1="294.6" y2="308.6" stroke="#2e8b2e"/>
<line x1="877.18" x2="877.18" y1="294.6" y2="308.6" stroke="#2e8b2e"/>
<line x1="881.44" x2="881.44" y1="294.6" y2="308.6" stroke="#2e8b2e"/>
<line x1="885.69" x2="885.69" y1="294.6" y2="308.6" stroke="#2e8b2e"/>
<line x1="889.95" x2="889.95" y1="294.6" y2="308.6" stroke="#2e8b2e"/>
<line x1="894.20" x2="894.20" y1="294.6" y2="308.6" stroke="#2e8b2e"/>
<line x1="898.46" x2="898.46" y1="294.6" y2="308.6" stroke="#2e8b2e"/>
<line x1="902.71" x2="902.71" y1="294.6" y2="308.6" stroke="#2e8b2e"/>
<line x1="906.97" x2="906.97" y1="294.6" y2="308.6" stroke="#2e8b2e"/>
<line x1="911.22" x2="911.22" y1="294.6" y2="308.6" stroke="#2e8b2e"/>
<line x1="915.48" x2="915.48" y1="294.6" y2="308.6" stroke="#2e8b2e"/>
<line x1="919.73" x2="919.73" y1="294.6" y2="308.6" stroke="#2e8b2e"/>
<line x1="923.99" x2="923.99" y1="294.6" y2="308.6" stroke="#2e8b2e"/>
<line x1="928.24" x2="928.24" y1="294.6" y2="308.6" stroke="#2e8b2e"/>
<line x1="932.50" x2="932.50" y1="294.6" y2="308.6" stroke="#2e8b2e"/>
<line x1="936.75" x2="936.75" y1="294.6" y2="308.6" stroke="#2e8b2e"/>
<line x1="941.00" x2="941.00" y1="294.6" y2="308.6" stroke="#2e8b2e"/>
<line x1="945.26" x2="945.26" y1="294.6" y2="308.6" stroke="#2e8b2e"/>
<line x1="949.51" x2="949.51" y1="294.6" y2="308.6" stroke="#2e8b2e"/>
<line x1="953.77" x2="953.77" y1="294.6" y2="308.6" stroke="#2e8b2e"/>
<line x1="958.02" x2="958.02" y1="309.8" y2="316.2" stroke="#222"/>
<line x1="962.28" x2="962.28" y1="309.8" y2="316.2" stroke="#222"/>
<line x1="966.53" x2="966.53" y1="309.8" y2="316.2" stroke="#222"/>
<line x1="970.79" x2="970.79" y1="309.8" y2="316.2" stroke="#222"/>
<line x1="975.05" x2="975.05" y1="309.8" y2="316.2" stroke="#222"/>
<line x1="979.30" x2="979.30" y1="309.8" y2="316.2" stroke="#222"/>
<line x1="983.56" x2="983.56" y1="309.8" y2="316.2" stroke="#222"/>
</g>
<g id="osclines" stroke="#6a6af0" stroke-width="1">
<line x1="38.4" x2="986" y1="332.5" y2="332.5"/>
<line x1="38.4" x2="986" y1="343.2" y2="343.2"/>
<line x1="38.4" x2="986" y1="353.6" y2="353.6"/>
</g>
<g id="osc" fill="none" stroke-width="1.4" stroke-linejoin="round" stroke-linecap="round">
<path d="M38.9,346.5 L39.3,346.7 L39.9,347.1 L40.5,347.5 L41.3,348.0 L42.1,348.5 L43.1,349.0 L44.1,349.4 L45.2,349.8 L46.5,350.0 L48.0,350.3 L49.5,350.5 L51.2,350.7 L52.9,350.9 L54.6,351.1 L56.3,351.3 L57.9,351.5 L59.5,351.8 L61.1,352.1 L62.7,352.5 L64.3,352.8 L65.9,353.1 L67.5,353.5 L69.0,353.8 L70.6,354.1 L72.2,354.4 L73.9,354.7 L75.5,354.9 L77.1,355.2 L78.8,355.5 L80.3,355.7 L81.9,355.9 L83.3,356.1 L84.7,356.2 L86.0,356.4 L87.3,356.5 L88.6,356.5 L89.8,356.6 L91.0,356.5 L92.2,356.5 L93.5,356.4 L94.8,356.2 L96.0,355.9 L97.3,355.6 L98.6,355.2 L99.8,354.8 L101.1,354.4 L102.4,354.0 L103.6,353.6 L104.9,353.2 L106.1,352.7 L107.3,352.3 L108.6,351.9 L109.8,351.4 L111.1,350.9 L112.4,350.4 L113.8,349.8 L115.3,349.0 L116.9,348.2 L118.5,347.3 L120.1,346.4 L121.8,345.5 L123.4,344.6 L125.0,343.9 L126.5,343.4 L127.4,343.2" stroke="#e8203a"/>
<path d="M127.4,343.2 L127.9,343.1 L129.2,342.9 L130.4,342.9 L131.6,343.0 L132.8,343.0 L134.0,343.1 L135.3,343.1 L136.7,342.9 L138.1,342.6 L139.6,342.3 L141.2,341.8 L142.8,341.4 L144.5,340.9 L146.1,340.5 L147.7,340.0 L149.3,339.6 L150.9,339.2 L152.5,338.7 L154.1,338.3 L155.7,337.8 L157.3,337.4 L158.9,337.1 L160.5,336.9 L162.0,336.8 L163.6,336.9 L165.2,337.2 L166.8,337.5 L168.4,338.0 L170.0,338.5 L171.6,338.9 L173.2,339.2 L174.7,339.3 L176.4,339.3 L178.0,339.2 L179.7,339.0 L181.3,338.7 L183.0,338.4 L184.5,338.1 L186.0,337.9 L187.4,337.8 L188.7,337.8 L189.9,337.8 L190.9,337.9 L192.0,338.0 L193.0,338.1 L194.0,338.3 L195.1,338.6 L196.3,338.8 L197.6,339.2 L199.0,339.7 L200.5,340.2 L202.0,340.8 L203.5,341.4 L204.9,341.9 L206.4,342.3 L207.8,342.6 L209.1,342.9 L210.3,343.1 L211.4,343.2 L211.6,343.2" stroke="#2020d8"/>
<path d="M211.6,343.2 L212.6,343.3 L213.8,343.3 L215.0,343.2 L215.3,343.2" stroke="#e8203a"/>
<path d="M215.3,343.2 L216.4,343.1 L217.9,342.9 L219.6,342.6 L221.4,342.2 L223.3,341.7 L225.2,341.2 L227.2,340.6 L229.2,340.0 L231.2,339.4 L233.1,338.8 L235.1,338.2 L237.0,337.5 L239.0,336.8 L240.9,336.1 L242.9,335.4 L244.8,334.8 L246.6,334.4 L248.4,334.3 L250.1,334.3 L251.8,334.6 L253.4,335.0 L255.1,335.6 L256.6,336.2 L258.1,336.8 L259.6,337.4 L261.1,337.8 L262.5,338.2 L263.8,338.5 L265.1,338.8 L266.3,339.1 L267.5,339.4 L268.8,339.7 L270.0,340.0 L271.2,340.4 L272.5,340.8 L273.8,341.2 L275.0,341.7 L276.2,342.1 L277.5,342.6 L278.8,343.0 L279.4,343.2" stroke="#2020d8"/>
<path d="M279.4,343.2 L280.1,343.4 L281.4,343.7 L282.7,343.8 L284.1,343.9 L285.5,343.9 L286.9,343.9 L288.3,343.9 L289.7,343.9 L291.2,344.0 L292.7,344.2 L294.3,344.5 L295.9,344.9 L297.6,345.3 L299.3,345.8 L300.9,346.3 L302.5,346.7 L304.0,347.0 L305.4,347.2 L306.6,347.3 L307.7,347.3 L308.6,347.2 L309.5,347.0 L310.4,346.8 L311.2,346.5 L312.1,346.3 L313.0,345.9 L313.9,345.6 L314.8,345.2 L315.7,344.7 L316.6,344.2 L317.5,343.7 L318.4,343.2" stroke="#e8203a"/>
<path d="M318.4,343.2 L318.5,343.2 L319.5,342.7 L320.6,342.1 L321.9,341.6 L323.2,341.0 L324.5,340.4 L325.9,339.8 L327.4,339.2 L328.9,338.6 L330.5,338.2 L332.1,337.8 L333.7,337.6 L335.4,337.4 L337.2,337.3 L339.0,337.2 L340.8,337.3 L342.6,337.3 L344.3,337.4 L346.0,337.6 L347.7,337.8 L349.3,338.1 L350.9,338.5 L352.5,338.9 L354.0,339.3 L355.6,339.7 L357.1,340.1 L358.7,340.4 L360.3,340.6 L362.0,340.8 L363.6,340.9 L365.2,341.1 L366.8,341.2 L368.4,341.3 L370.0,341.3 L371.4,341.4 L372.8,341.4 L374.1,341.3 L375.4,341.2 L376.7,341.1 L377.9,341.0 L379.1,340.9 L380.3,341.0 L381.6,341.1 L382.8,341.4 L384.1,341.8 L385.4,342.2 L386.7,342.7 L387.9,343.2" stroke="#2020d8"/>
<path d="M387.9,343.2 L387.9,343.2 L389.2,343.7 L390.5,344.2 L391.7,344.7 L393.0,345.1 L394.3,345.5 L395.5,345.9 L396.8,346.3 L398.1,346.7 L399.3,347.0 L400.6,347.4 L401.9,347.7 L403.1,348.0 L404.4,348.3 L405.6,348.5 L406.8,348.7 L408.1,349.0 L409.3,349.2 L410.7,349.5 L412.0,349.8 L413.5,350.1 L415.0,350.5 L416.6,350.9 L418.2,351.3 L419.9,351.7 L421.5,352.1 L423.1,352.5 L424.7,352.8 L426.3,353.1 L427.9,353.3 L429.4,353.6 L430.9,353.8 L432.5,354.0 L434.1,354.2 L435.7,354.4 L437.4,354.6 L439.2,354.8 L441.1,354.9 L443.0,355.1 L444.9,355.3 L446.9,355.5 L448.8,355.6 L450.8,355.7 L452.7,355.8 L454.6,356.0 L456.5,356.1 L458.5,356.2 L460.5,356.2 L462.4,356.3 L464.3,356.4 L466.1,356.4 L467.9,356.4 L469.7,356.3 L471.4,356.3 L473.1,356.2 L474.7,356.1 L476.3,356.0 L477.9,355.8 L479.3,355.6 L480.6,355.3 L481.8,355.0 L482.8,354.7 L483.7,354.3 L484.6,353.8 L485.4,353.3 L486.3,352.8 L487.2,352.2 L488.2,351.5 L489.4,350.8 L490.6,349.9 L491.9,349.0 L493.1,348.0 L494.5,347.0 L495.8,346.1 L497.1,345.3 L498.4,344.7 L499.6,344.2 L500.9,343.9 L502.1,343.8 L503.3,343.6 L504.5,343.5 L505.8,343.4 L507.2,343.2 L507.2,343.2" stroke="#e8203a"/>
<path d="M507.2,343.2 L508.5,342.9 L510.0,342.4 L511.6,341.9 L513.3,341.3 L515.0,340.7 L516.7,340.0 L518.3,339.4 L519.8,338.8 L521.2,338.3 L522.5,337.9 L523.7,337.6 L524.8,337.2 L525.8,337.0 L526.8,336.7 L527.8,336.4 L528.9,336.1 L530.0,335.8 L531.2,335.4 L532.4,335.0 L533.6,334.6 L534.8,334.2 L536.1,333.8 L537.4,333.4 L538.8,333.1 L540.2,332.7 L541.6,332.5 L543.1,332.2 L544.6,331.9 L546.2,331.7 L547.8,331.5 L549.4,331.3 L551.1,331.1 L552.9,331.0 L554.7,330.8 L556.6,330.6 L558.6,330.4 L560.6,330.2 L562.6,330.1 L564.6,330.0 L566.4,329.9 L568.1,329.9 L569.6,330.1 L571.0,330.3 L572.3,330.6 L573.5,330.9 L574.7,331.3 L575.8,331.6 L577.0,332.0 L578.2,332.2 L579.5,332.4 L580.7,332.6 L581.9,332.7 L583.2,332.9 L584.4,333.0 L585.7,333.2 L587.0,333.4 L588.4,333.8 L589.9,334.2 L591.5,334.7 L593.1,335.3 L594.8,335.9 L596.4,336.6 L598.0,337.2 L599.6,337.8 L601.1,338.3 L602.5,338.8 L603.8,339.3 L605.0,339.7 L606.3,340.1 L607.5,340.5 L608.7,340.9 L609.9,341.3 L611.3,341.6 L612.7,342.0 L614.1,342.4 L615.7,342.8 L617.2,343.2 L617.3,343.2" stroke="#2020d8"/>
<path d="M617.3,343.2 L618.7,343.5 L620.2,343.8 L621.5,344.0 L622.7,344.2 L623.7,344.2 L624.5,344.2 L625.3,344.2 L625.9,344.1 L626.6,343.9 L627.3,343.6 L628.1,343.3 L628.3,343.2" stroke="#e8203a"/>
<path d="M628.3,343.2 L629.0,342.9 L630.1,342.4 L631.3,341.7 L632.6,341.0 L633.9,340.1 L635.2,339.3 L636.6,338.5 L637.9,337.7 L639.2,337.1 L640.4,336.5 L641.6,335.9 L642.8,335.4 L644.0,334.9 L645.2,334.4 L646.5,334.0 L647.8,333.6 L649.3,333.2 L651.0,332.9 L652.9,332.7 L654.8,332.4 L656.8,332.2 L658.8,332.1 L660.8,331.9 L662.8,331.7 L664.6,331.5 L666.3,331.2 L668.0,330.9 L669.6,330.6 L671.3,330.4 L672.8,330.1 L674.3,329.8 L675.8,329.6 L677.3,329.4 L678.7,329.3 L679.9,329.2 L681.2,329.1 L682.4,329.0 L683.6,329.0 L684.8,329.0 L686.1,329.1 L687.4,329.2 L688.9,329.4 L690.4,329.6 L692.0,329.9 L693.6,330.2 L695.3,330.6 L696.9,331.0 L698.5,331.5 L700.1,332.0 L701.7,332.5 L703.3,333.2 L704.9,333.9 L706.5,334.7 L708.1,335.4 L709.7,336.2 L711.2,336.9 L712.8,337.6 L714.5,338.2 L716.1,338.8 L717.8,339.4 L719.5,340.0 L721.1,340.6 L722.7,341.1 L724.2,341.7 L725.5,342.1 L726.7,342.6 L727.7,343.0 L728.4,343.2" stroke="#2020d8"/>
<path d="M728.4,343.2 L728.6,343.3 L729.5,343.6 L730.3,344.0 L731.2,344.3 L732.1,344.6 L733.1,344.9 L734.3,345.3 L735.5,345.7 L736.8,346.1 L738.1,346.5 L739.5,346.8 L740.8,347.2 L742.1,347.5 L743.3,347.7 L744.5,347.9 L745.6,348.1 L746.7,348.3 L747.8,348.4 L748.9,348.5 L750.0,348.6 L751.1,348.6 L752.2,348.5 L753.3,348.3 L754.4,348.1 L755.5,347.8 L756.6,347.5 L757.7,347.1 L758.8,346.7 L759.9,346.3 L761.1,345.9 L762.3,345.6 L763.5,345.1 L764.8,344.7 L766.0,344.3 L767.3,343.8 L768.6,343.4 L769.3,343.2" stroke="#e8203a"/>
<path d="M769.3,343.2 L769.9,343.0 L771.2,342.6 L772.6,342.3 L773.9,342.0 L775.3,341.8 L776.7,341.5 L778.1,341.3 L779.5,341.0 L780.9,340.8 L782.4,340.6 L783.9,340.3 L785.6,340.1 L787.3,339.8 L789.0,339.5 L790.7,339.3 L792.2,339.1 L793.6,338.9 L794.8,338.8 L795.8,338.8 L796.6,338.8 L797.2,338.8 L797.8,338.9 L798.2,339.0 L798.7,339.1 L799.2,339.3 L799.8,339.6 L800.4,339.9 L801.0,340.4 L801.6,340.9 L802.3,341.4 L802.9,342.0 L803.5,342.5 L804.1,342.9 L804.5,343.2" stroke="#2020d8"/>
<path d="M804.5,343.2 L804.7,343.3 L805.4,343.6 L806.0,343.9 L806.5,344.1 L807.1,344.3 L807.8,344.4 L808.4,344.5 L809.0,344.6 L809.7,344.6 L810.4,344.5 L811.1,344.3 L811.8,344.1 L812.6,343.9 L813.3,343.6 L814.2,343.3 L814.4,343.2" stroke="#e8203a"/>
<path d="M814.4,343.2 L815.0,342.9 L815.9,342.6 L816.8,342.1 L817.8,341.6 L818.8,341.0 L819.9,340.4 L821.0,339.8 L822.1,339.3 L823.3,338.8 L824.6,338.3 L826.0,338.0 L827.5,337.8 L829.1,337.6 L830.7,337.4 L832.4,337.2 L834.0,337.1 L835.5,337.0 L837.0,336.9 L838.4,336.7 L839.7,336.5 L840.9,336.4 L842.1,336.2 L843.3,336.1 L844.5,336.0 L845.7,336.0 L846.9,336.1 L848.1,336.3 L849.3,336.6 L850.5,337.0 L851.7,337.5 L852.9,337.9 L854.2,338.3 L855.5,338.7 L856.8,338.8 L858.3,338.9 L859.8,338.9 L861.4,338.7 L863.1,338.6 L864.7,338.4 L866.3,338.2 L867.8,338.0 L869.3,337.9 L870.6,337.8 L871.9,337.7 L873.2,337.6 L874.4,337.6 L875.6,337.5 L876.8,337.3 L878.0,337.1 L879.2,336.9 L880.4,336.5 L881.7,336.0 L882.9,335.4 L884.1,334.8 L885.4,334.2 L886.6,333.6 L887.9,333.1 L889.1,332.6 L890.4,332.3 L891.6,332.0 L892.9,331.8 L894.2,331.6 L895.5,331.4 L896.7,331.3 L897.9,331.2 L899.0,331.2 L900.1,331.1 L901.0,331.1 L901.9,331.1 L902.8,331.1 L903.6,331.2 L904.5,331.3 L905.4,331.4 L906.5,331.7 L907.6,331.9 L908.8,332.2 L910.0,332.6 L911.3,333.0 L912.6,333.4 L913.9,333.9 L915.1,334.5 L916.4,335.1 L917.6,335.8 L918.8,336.7 L920.0,337.6 L921.2,338.6 L922.4,339.6 L923.7,340.5 L925.0,341.3 L926.3,342.1 L927.8,342.7 L929.1,343.2" stroke="#2020d8"/>
<path d="M929.1,343.2 L929.3,343.2 L930.8,343.7 L932.4,344.2 L934.0,344.6 L935.6,345.0 L937.2,345.4 L938.7,345.8 L940.3,346.2 L941.8,346.6 L943.4,347.0 L944.9,347.3 L946.5,347.7 L948.0,348.0 L949.6,348.4 L951.1,348.8 L952.7,349.2 L954.3,349.6 L955.9,350.1 L957.5,350.5 L959.1,350.9 L960.6,351.3 L962.1,351.7 L963.5,352.0 L964.9,352.3 L966.3,352.5 L967.6,352.7 L968.8,352.9 L970.0,353.0 L971.2,353.1 L972.4,353.2 L973.5,353.2 L974.6,353.2 L975.6,353.2 L976.6,353.1 L977.6,353.0 L978.6,352.9 L979.4,352.7 L980.2,352.6 L980.9,352.5 L981.5,352.4 L982.0,352.2 L982.5,352.1 L982.9,352.0 L983.2,351.8 L983.5,351.7 L983.7,351.6 L983.9,351.5" stroke="#e8203a"/>
</g>
<line x1="914" x2="948" y1="353.6" y2="353.6" stroke="#fff" stroke-width="1" stroke-dasharray="2 3"/>
<g id="volume" fill="#ee28ee" stroke="#d606d6" stroke-width="0.5">
<rect x="42.25" y="385.9" width="1.9" height="8.4"/>
<rect x="46.51" y="387.4" width="1.9" height="6.9"/>
<rect x="50.76" y="388.0" width="1.9" height="6.3"/>
<rect x="55.02" y="384.1" width="1.9" height="10.2"/>
<rect x="59.27" y="375.3" width="1.9" height="19.0"/>
<rect x="63.52" y="379.1" width="1.9" height="15.2"/>
<rect x="67.78" y="381.6" width="1.9" height="12.7"/>
<rect x="72.03" y="383.6" width="1.9" height="10.7"/>
<rect x="76.29" y="385.9" width="1.9" height="8.4"/>
<rect x="80.55" y="384.7" width="1.9" height="9.6"/>
<rect x="84.80" y="387.4" width="1.9" height="6.9"/>
<rect x="89.05" y="390.0" width="1.9" height="4.3"/>
<rect x="93.31" y="385.9" width="1.9" height="8.4"/>
<rect x="97.56" y="381.6" width="1.9" height="12.7"/>
<rect x="101.82" y="382.1" width="1.9" height="12.2"/>
<rect x="106.08" y="381.6" width="1.9" height="12.7"/>
<rect x="110.33" y="383.6" width="1.9" height="10.7"/>
<rect x="114.58" y="382.9" width="1.9" height="11.4"/>
<rect x="118.84" y="382.9" width="1.9" height="11.4"/>
<rect x="123.09" y="383.4" width="1.9" height="10.9"/>
<rect x="127.35" y="381.6" width="1.9" height="12.7"/>
<rect x="131.61" y="382.4" width="1.9" height="11.9"/>
<rect x="135.86" y="382.9" width="1.9" height="11.4"/>
<rect x="140.12" y="382.9" width="1.9" height="11.4"/>
<rect x="144.37" y="383.4" width="1.9" height="10.9"/>
<rect x="148.62" y="385.4" width="1.9" height="8.9"/>
<rect x="152.88" y="382.9" width="1.9" height="11.4"/>
<rect x="157.13" y="381.6" width="1.9" height="12.7"/>
<rect x="161.39" y="381.6" width="1.9" height="12.7"/>
<rect x="165.65" y="382.1" width="1.9" height="12.2"/>
<rect x="169.90" y="382.4" width="1.9" height="11.9"/>
<rect x="174.16" y="380.3" width="1.9" height="14.0"/>
<rect x="178.41" y="382.1" width="1.9" height="12.2"/>
<rect x="182.67" y="381.6" width="1.9" height="12.7"/>
<rect x="186.92" y="382.1" width="1.9" height="12.2"/>
<rect x="191.18" y="382.1" width="1.9" height="12.2"/>
<rect x="195.43" y="385.4" width="1.9" height="8.9"/>
<rect x="199.69" y="383.4" width="1.9" height="10.9"/>
<rect x="203.94" y="382.9" width="1.9" height="11.4"/>
<rect x="208.19" y="381.1" width="1.9" height="13.2"/>
<rect x="212.45" y="381.6" width="1.9" height="12.7"/>
<rect x="216.70" y="382.4" width="1.9" height="11.9"/>
<rect x="220.96" y="383.4" width="1.9" height="10.9"/>
<rect x="225.22" y="382.1" width="1.9" height="12.2"/>
<rect x="229.47" y="379.8" width="1.9" height="14.5"/>
<rect x="233.73" y="379.6" width="1.9" height="14.7"/>
<rect x="237.98" y="374.8" width="1.9" height="19.5"/>
<rect x="242.24" y="379.8" width="1.9" height="14.5"/>
<rect x="246.49" y="377.8" width="1.9" height="16.5"/>
<rect x="250.75" y="377.8" width="1.9" height="16.5"/>
<rect x="255.00" y="377.3" width="1.9" height="17.0"/>
<rect x="259.25" y="381.6" width="1.9" height="12.7"/>
<rect x="263.51" y="380.3" width="1.9" height="14.0"/>
<rect x="267.76" y="378.6" width="1.9" height="15.7"/>
<rect x="272.02" y="377.8" width="1.9" height="16.5"/>
<rect x="276.28" y="377.3" width="1.9" height="17.0"/>
<rect x="280.53" y="376.5" width="1.9" height="17.8"/>
<rect x="284.79" y="377.3" width="1.9" height="17.0"/>
<rect x="289.04" y="374.7" width="1.9" height="19.6"/>
<rect x="293.30" y="376.5" width="1.9" height="17.8"/>
<rect x="297.55" y="378.3" width="1.9" height="16.0"/>
<rect x="301.81" y="381.1" width="1.9" height="13.2"/>
<rect x="306.06" y="383.4" width="1.9" height="10.9"/>
<rect x="310.31" y="386.7" width="1.9" height="7.6"/>
<rect x="314.57" y="382.1" width="1.9" height="12.2"/>
<rect x="318.82" y="379.1" width="1.9" height="15.2"/>
<rect x="323.08" y="374.7" width="1.9" height="19.6"/>
<rect x="327.33" y="374.0" width="1.9" height="20.3"/>
<rect x="331.59" y="376.5" width="1.9" height="17.8"/>
<rect x="335.84" y="374.7" width="1.9" height="19.6"/>
<rect x="340.10" y="379.6" width="1.9" height="14.7"/>
<rect x="344.36" y="381.6" width="1.9" height="12.7"/>
<rect x="348.61" y="379.6" width="1.9" height="14.7"/>
<rect x="352.87" y="380.3" width="1.9" height="14.0"/>
<rect x="357.12" y="379.8" width="1.9" height="14.5"/>
<rect x="361.38" y="377.3" width="1.9" height="17.0"/>
<rect x="365.63" y="382.9" width="1.9" height="11.4"/>
<rect x="369.88" y="379.6" width="1.9" height="14.7"/>
<rect x="374.14" y="376.5" width="1.9" height="17.8"/>
<rect x="378.39" y="379.6" width="1.9" height="14.7"/>
<rect x="382.65" y="379.6" width="1.9" height="14.7"/>
<rect x="386.90" y="379.1" width="1.9" height="15.2"/>
<rect x="391.16" y="377.3" width="1.9" height="17.0"/>
<rect x="395.41" y="377.8" width="1.9" height="16.5"/>
<rect x="399.67" y="377.0" width="1.9" height="17.3"/>
<rect x="403.93" y="380.3" width="1.9" height="14.0"/>
<rect x="408.18" y="380.8" width="1.9" height="13.5"/>
<rect x="412.44" y="380.8" width="1.9" height="13.5"/>
<rect x="416.69" y="378.6" width="1.9" height="15.7"/>
<rect x="420.94" y="382.9" width="1.9" height="11.4"/>
<rect x="425.20" y="379.1" width="1.9" height="15.2"/>
<rect x="429.45" y="382.1" width="1.9" height="12.2"/>
<rect x="433.71" y="379.6" width="1.9" height="14.7"/>
<rect x="437.96" y="381.6" width="1.9" height="12.7"/>
<rect x="442.22" y="382.1" width="1.9" height="12.2"/>
<rect x="446.47" y="382.1" width="1.9" height="12.2"/>
<rect x="450.73" y="377.0" width="1.9" height="17.3"/>
<rect x="454.99" y="382.4" width="1.9" height="11.9"/>
<rect x="459.24" y="381.1" width="1.9" height="13.2"/>
<rect x="463.50" y="379.8" width="1.9" height="14.5"/>
<rect x="467.75" y="379.8" width="1.9" height="14.5"/>
<rect x="472.00" y="382.1" width="1.9" height="12.2"/>
<rect x="476.26" y="379.6" width="1.9" height="14.7"/>
<rect x="480.51" y="379.6" width="1.9" height="14.7"/>
<rect x="484.77" y="378.3" width="1.9" height="16.0"/>
<rect x="489.02" y="380.8" width="1.9" height="13.5"/>
<rect x="493.28" y="382.9" width="1.9" height="11.4"/>
<rect x="497.53" y="380.8" width="1.9" height="13.5"/>
<rect x="501.79" y="382.4" width="1.9" height="11.9"/>
<rect x="506.05" y="381.1" width="1.9" height="13.2"/>
<rect x="510.30" y="382.9" width="1.9" height="11.4"/>
<rect x="514.55" y="381.1" width="1.9" height="13.2"/>
<rect x="518.81" y="384.7" width="1.9" height="9.6"/>
<rect x="523.06" y="384.7" width="1.9" height="9.6"/>
<rect x="527.32" y="382.9" width="1.9" height="11.4"/>
<rect x="531.57" y="386.7" width="1.9" height="7.6"/>
<rect x="535.83" y="386.7" width="1.9" height="7.6"/>
<rect x="540.08" y="381.6" width="1.9" height="12.7"/>
<rect x="544.34" y="383.6" width="1.9" height="10.7"/>
<rect x="548.59" y="382.1" width="1.9" height="12.2"/>
<rect x="552.85" y="381.6" width="1.9" height="12.7"/>
<rect x="557.11" y="386.7" width="1.9" height="7.6"/>
<rect x="561.36" y="385.9" width="1.9" height="8.4"/>
<rect x="565.62" y="379.8" width="1.9" height="14.5"/>
<rect x="569.87" y="382.9" width="1.9" height="11.4"/>
<rect x="574.12" y="380.8" width="1.9" height="13.5"/>
<rect x="578.38" y="382.4" width="1.9" height="11.9"/>
<rect x="582.63" y="380.3" width="1.9" height="14.0"/>
<rect x="586.89" y="379.6" width="1.9" height="14.7"/>
<rect x="591.14" y="382.1" width="1.9" height="12.2"/>
<rect x="595.40" y="382.1" width="1.9" height="12.2"/>
<rect x="599.65" y="384.1" width="1.9" height="10.2"/>
<rect x="603.91" y="382.9" width="1.9" height="11.4"/>
<rect x="608.16" y="381.1" width="1.9" height="13.2"/>
<rect x="612.42" y="379.8" width="1.9" height="14.5"/>
<rect x="616.67" y="379.8" width="1.9" height="14.5"/>
<rect x="620.93" y="381.6" width="1.9" height="12.7"/>
<rect x="625.18" y="383.6" width="1.9" height="10.7"/>
<rect x="629.44" y="376.5" width="1.9" height="17.8"/>
<rect x="633.69" y="381.1" width="1.9" height="13.2"/>
<rect x="637.95" y="374.7" width="1.9" height="19.6"/>
<rect x="642.21" y="370.7" width="1.9" height="23.6"/>
<rect x="646.46" y="374.5" width="1.9" height="19.8"/>
<rect x="650.72" y="373.5" width="1.9" height="20.8"/>
<rect x="654.97" y="376.5" width="1.9" height="17.8"/>
<rect x="659.23" y="374.0" width="1.9" height="20.3"/>
<rect x="663.48" y="375.3" width="1.9" height="19.0"/>
<rect x="667.74" y="368.1" width="1.9" height="26.2"/>
<rect x="671.99" y="371.4" width="1.9" height="22.9"/>
<rect x="676.25" y="379.8" width="1.9" height="14.5"/>
<rect x="680.50" y="372.7" width="1.9" height="21.6"/>
<rect x="684.75" y="370.9" width="1.9" height="23.4"/>
<rect x="689.01" y="372.7" width="1.9" height="21.6"/>
<rect x="693.26" y="376.5" width="1.9" height="17.8"/>
<rect x="697.52" y="374.5" width="1.9" height="19.8"/>
<rect x="701.77" y="372.0" width="1.9" height="22.3"/>
<rect x="706.03" y="377.0" width="1.9" height="17.3"/>
<rect x="710.28" y="377.0" width="1.9" height="17.3"/>
<rect x="714.54" y="380.8" width="1.9" height="13.5"/>
<rect x="718.79" y="376.5" width="1.9" height="17.8"/>
<rect x="723.05" y="371.4" width="1.9" height="22.9"/>
<rect x="727.30" y="374.7" width="1.9" height="19.6"/>
<rect x="731.56" y="377.0" width="1.9" height="17.3"/>
<rect x="735.81" y="381.1" width="1.9" height="13.2"/>
<rect x="740.07" y="378.3" width="1.9" height="16.0"/>
<rect x="744.32" y="379.8" width="1.9" height="14.5"/>
<rect x="748.58" y="382.9" width="1.9" height="11.4"/>
<rect x="752.84" y="387.2" width="1.9" height="7.1"/>
<rect x="757.09" y="390.5" width="1.9" height="3.8"/>
<rect x="761.35" y="366.9" width="1.9" height="27.4"/>
<rect x="765.60" y="378.3" width="1.9" height="16.0"/>
<rect x="769.86" y="377.4" width="1.9" height="16.9"/>
<rect x="774.11" y="374.9" width="1.9" height="19.4"/>
<rect x="778.37" y="378.7" width="1.9" height="15.6"/>
<rect x="782.62" y="382.4" width="1.9" height="11.9"/>
<rect x="786.88" y="377.9" width="1.9" height="16.4"/>
<rect x="791.13" y="363.8" width="1.9" height="30.5"/>
<rect x="795.38" y="370.5" width="1.9" height="23.8"/>
<rect x="799.64" y="367.0" width="1.9" height="27.3"/>
<rect x="803.89" y="370.0" width="1.9" height="24.3"/>
<rect x="808.15" y="378.7" width="1.9" height="15.6"/>
<rect x="812.40" y="386.9" width="1.9" height="7.4"/>
<rect x="816.66" y="387.8" width="1.9" height="6.5"/>
<rect x="820.91" y="384.4" width="1.9" height="9.9"/>
<rect x="825.17" y="383.6" width="1.9" height="10.7"/>
<rect x="829.42" y="385.4" width="1.9" height="8.9"/>
<rect x="833.68" y="384.9" width="1.9" height="9.4"/>
<rect x="837.93" y="384.1" width="1.9" height="10.2"/>
<rect x="842.19" y="383.6" width="1.9" height="10.7"/>
<rect x="846.44" y="384.4" width="1.9" height="9.9"/>
<rect x="850.70" y="385.4" width="1.9" height="8.9"/>
<rect x="854.95" y="384.1" width="1.9" height="10.2"/>
<rect x="859.21" y="386.1" width="1.9" height="8.2"/>
<rect x="863.47" y="384.9" width="1.9" height="9.4"/>
<rect x="867.72" y="384.4" width="1.9" height="9.9"/>
<rect x="871.98" y="383.1" width="1.9" height="11.2"/>
<rect x="876.23" y="383.1" width="1.9" height="11.2"/>
<rect x="880.49" y="379.9" width="1.9" height="14.4"/>
<rect x="884.74" y="377.4" width="1.9" height="16.9"/>
<rect x="889.00" y="379.9" width="1.9" height="14.4"/>
<rect x="893.25" y="373.2" width="1.9" height="21.1"/>
<rect x="897.50" y="376.7" width="1.9" height="17.6"/>
<rect x="901.76" y="376.7" width="1.9" height="17.6"/>
<rect x="906.01" y="378.7" width="1.9" height="15.6"/>
<rect x="910.27" y="378.7" width="1.9" height="15.6"/>
<rect x="914.52" y="381.6" width="1.9" height="12.7"/>
<rect x="918.78" y="377.9" width="1.9" height="16.4"/>
<rect x="923.03" y="381.9" width="1.9" height="12.4"/>
<rect x="927.29" y="384.1" width="1.9" height="10.2"/>
<rect x="931.54" y="384.1" width="1.9" height="10.2"/>
<rect x="935.80" y="385.4" width="1.9" height="8.9"/>
<rect x="940.05" y="384.4" width="1.9" height="9.9"/>
<rect x="944.31" y="382.9" width="1.9" height="11.4"/>
<rect x="948.56" y="379.4" width="1.9" height="14.9"/>
<rect x="952.82" y="384.4" width="1.9" height="9.9"/>
<rect x="957.07" y="381.1" width="1.9" height="13.2"/>
<rect x="961.33" y="382.9" width="1.9" height="11.4"/>
<rect x="965.58" y="384.4" width="1.9" height="9.9"/>
<rect x="969.84" y="384.9" width="1.9" height="9.4"/>
<rect x="974.10" y="386.9" width="1.9" height="7.4"/>
<rect x="978.35" y="388.6" width="1.9" height="5.7"/>
<rect x="982.61" y="392.8" width="1.9" height="1.5"/>
</g>
<g id="navigator">
<line x1="38.4" x2="986" y1="394.5" y2="394.5" stroke="#ccd6eb" stroke-width="1"/>
<rect x="789.5" y="394.5" width="188.5" height="24.5" fill="#6685c2" fill-opacity="0.3"/>
<line x1="133.5" x2="133.5" y1="395" y2="419" stroke="#e6e6e6" stroke-width="1"/>
<line x1="222" x2="222" y1="395" y2="419" stroke="#e6e6e6" stroke-width="1"/>
<line x1="311.5" x2="311.5" y1="395" y2="419" stroke="#e6e6e6" stroke-width="1"/>
<line x1="399.5" x2="399.5" y1="395" y2="419" stroke="#e6e6e6" stroke-width="1"/>
<line x1="489" x2="489" y1="395" y2="419" stroke="#e6e6e6" stroke-width="1"/>
<line x1="577.5" x2="577.5" y1="395" y2="419" stroke="#e6e6e6" stroke-width="1"/>
<line x1="666" x2="666" y1="395" y2="419" stroke="#e6e6e6" stroke-width="1"/>
<line x1="754.5" x2="754.5" y1="395" y2="419" stroke="#e6e6e6" stroke-width="1"/>
<line x1="844" x2="844" y1="395" y2="419" stroke="#e6e6e6" stroke-width="1"/>
<line x1="932.5" x2="932.5" y1="395" y2="419" stroke="#e6e6e6" stroke-width="1"/>
<g font-size="7.2" fill="#b0b0b0">
<text x="136.0" y="417.6" textLength="15" lengthAdjust="spacingAndGlyphs">2002</text>
<text x="224.5" y="417.6" textLength="15" lengthAdjust="spacingAndGlyphs">2004</text>
<text x="314.0" y="417.6" textLength="15" lengthAdjust="spacingAndGlyphs">2006</text>
<text x="402.0" y="417.6" textLength="15" lengthAdjust="spacingAndGlyphs">2008</text>
<text x="491.5" y="417.6" textLength="15" lengthAdjust="spacingAndGlyphs">2010</text>
<text x="580.0" y="417.6" textLength="15" lengthAdjust="spacingAndGlyphs">2012</text>
<text x="668.5" y="417.6" textLength="15" lengthAdjust="spacingAndGlyphs">2014</text>
<text x="757.0" y="417.6" textLength="15" lengthAdjust="spacingAndGlyphs">2016</text>
<text x="846.5" y="417.6" textLength="15" lengthAdjust="spacingAndGlyphs">2018</text>
<text x="935.0" y="417.6" textLength="15" lengthAdjust="spacingAndGlyphs">2020</text>
</g>
</g>
<g id="xlabels" font-size="7.2" fill="#606060" text-anchor="middle">
<text x="91" y="405.1" textLength="19.4" lengthAdjust="spacingAndGlyphs">Jan '17</text>
<text x="146" y="405.1" textLength="20.6" lengthAdjust="spacingAndGlyphs">Apr '17</text>
<text x="201.5" y="405.1" textLength="18.4" lengthAdjust="spacingAndGlyphs">Jul '17</text>
<text x="257" y="405.1" textLength="20.6" lengthAdjust="spacingAndGlyphs">Oct '17</text>
<text x="313" y="405.1" textLength="19.4" lengthAdjust="spacingAndGlyphs">Jan '18</text>
<text x="368" y="405.1" textLength="20.6" lengthAdjust="spacingAndGlyphs">Apr '18</text>
<text x="423" y="405.1" textLength="18.4" lengthAdjust="spacingAndGlyphs">Jul '18</text>
<text x="479.5" y="405.1" textLength="20.6" lengthAdjust="spacingAndGlyphs">Oct '18</text>
<text x="535.5" y="405.1" textLength="19.4" lengthAdjust="spacingAndGlyphs">Jan '19</text>
<text x="590.3" y="405.1" textLength="20.6" lengthAdjust="spacingAndGlyphs">Apr '19</text>
<text x="645" y="405.1" textLength="18.4" lengthAdjust="spacingAndGlyphs">Jul '19</text>
<text x="701.4" y="405.1" textLength="20.6" lengthAdjust="spacingAndGlyphs">Oct '19</text>
<text x="757.4" y="405.1" textLength="19.4" lengthAdjust="spacingAndGlyphs">Jan '20</text>
<text x="812.6" y="405.1" textLength="20.6" lengthAdjust="spacingAndGlyphs">Apr '20</text>
<text x="868" y="405.1" textLength="18.4" lengthAdjust="spacingAndGlyphs">Jul '20</text>
<text x="923.6" y="405.1" textLength="20.6" lengthAdjust="spacingAndGlyphs">Oct '20</text>
<text x="979" y="405.1" textLength="19.4" lengthAdjust="spacingAndGlyphs">Jan '21</text>
</g>
<g id="handles">
<rect x="787.5" y="400.6" width="4" height="8.6" fill="#fcfcfc" stroke="#999" stroke-width="0.7"/>
<path d="M788.9,403 v3.8 M790.1,403 v3.8" stroke="#666" stroke-width="0.5"/>
<rect x="976" y="400.6" width="4" height="8.6" fill="#fcfcfc" stroke="#999" stroke-width="0.7"/>
<path d="M977.4,403 v3.8 M978.6,403 v3.8" stroke="#666" stroke-width="0.5"/>
</g>
<g id="scrollbar">
<rect x="38.4" y="419.5" width="947.6" height="8" fill="#f2f2f2"/>
<rect x="789.5" y="419.5" width="188.5" height="8" fill="#cccccc"/>
<path d="M882,421.5 v4 M884,421.5 v4 M886,421.5 v4" stroke="#555" stroke-width="0.7"/>
<rect x="38.4" y="419.9" width="7.4" height="7.2" fill="#e6e6e6" stroke="#ccc" stroke-width="0.5"/>
<rect x="978.6" y="419.9" width="7.4" height="7.2" fill="#e6e6e6" stroke="#ccc" stroke-width="0.5"/>
<path d="M43.199999999999996,421.9 l-2,1.6 l2,1.6 z" fill="#222"/>
<path d="M981.4,421.9 l2,1.6 l-2,1.6 z" fill="#222"/>
</g>
<text x="1019.4" y="440.6" font-size="5.6" font-weight="bold" fill="#cf1f2c" text-anchor="end" textLength="53.4" lengthAdjust="spacingAndGlyphs">RENDIMENTOFONDI.IT</text>
<g id="flags" font-weight="bold" text-anchor="middle">
<path d="M61.2,225.7 L59.9,227.0 V231.5" stroke="#bb6868" stroke-width="0.8" fill="none"/>
<rect x="61.2" y="212.7" width="16.599999999999994" height="13.0" fill="#fff" stroke="#bb6868" stroke-width="0.8"/>
<text x="69.5" y="221.5" font-size="6.4" fill="#000" stroke="#000" stroke-width="0.25" textLength="10.3" lengthAdjust="spacingAndGlyphs">STP</text>
<ellipse cx="73.3" cy="240.3" rx="9.6" ry="6" fill="#b81c26"/>
<text x="73.3" y="242.60000000000002" font-size="6.4" fill="#fff" textLength="13.4" lengthAdjust="spacingAndGlyphs">SELL</text>
<text x="188.5" y="227.8" font-size="6.4" fill="#1010e8" stroke="#1010e8" stroke-width="0.2" textLength="15.0" lengthAdjust="spacingAndGlyphs">PEAK</text>
<rect x="231" y="189.5" width="17.69999999999999" height="13.5" fill="#fff" stroke="#5a8c5a" stroke-width="0.8"/>
<text x="239.85" y="198.55" font-size="6.4" fill="#000" stroke="#000" stroke-width="0.25" textLength="12.3" lengthAdjust="spacingAndGlyphs">LNG</text>
<text x="243.5" y="215.3" font-size="6.4" fill="#1010e8" stroke="#1010e8" stroke-width="0.2" textLength="15.0" lengthAdjust="spacingAndGlyphs">PEAK</text>
<rect x="422.8" y="203.3" width="16.899999999999977" height="13.199999999999989" fill="#fff" stroke="#bb6868" stroke-width="0.8"/>
<text x="431.25" y="212.20000000000002" font-size="6.4" fill="#000" stroke="#000" stroke-width="0.25" textLength="10.3" lengthAdjust="spacingAndGlyphs">STP</text>
<ellipse cx="435.2" cy="230.3" rx="9.6" ry="6" fill="#b81c26"/>
<text x="435.2" y="232.60000000000002" font-size="6.4" fill="#fff" textLength="13.4" lengthAdjust="spacingAndGlyphs">SELL</text>
<rect x="524.3" y="199.6" width="18.5" height="13.700000000000017" fill="#fff" stroke="#5a8c5a" stroke-width="0.8"/>
<text x="533.55" y="208.75" font-size="6.4" fill="#000" stroke="#000" stroke-width="0.25" textLength="12.3" lengthAdjust="spacingAndGlyphs">LNG</text>
<ellipse cx="536.4" cy="219.4" rx="8.3" ry="4.8" fill="#7fe07f"/>
<text x="536.4" y="221.70000000000002" font-size="6.4" fill="#0a1a0a" textLength="10.8" lengthAdjust="spacingAndGlyphs">BUY</text>
<text x="686.35" y="174.70000000000002" font-size="6.4" fill="#1010e8" stroke="#1010e8" stroke-width="0.2" textLength="14.7" lengthAdjust="spacingAndGlyphs">PEAK</text>
<text x="801.55" y="146.70000000000002" font-size="6.4" fill="#1010e8" stroke="#1010e8" stroke-width="0.2" textLength="15.5" lengthAdjust="spacingAndGlyphs">PEAK</text>
<rect x="792.9" y="115.2" width="16.899999999999977" height="14.100000000000009" fill="#fff" stroke="#bb6868" stroke-width="0.8"/>
<text x="801.3499999999999" y="124.55" font-size="6.4" fill="#000" stroke="#000" stroke-width="0.25" textLength="10.3" lengthAdjust="spacingAndGlyphs">STP</text>
<ellipse cx="805.7" cy="164.7" rx="9.4" ry="6.2" fill="#b81c26"/>
<text x="805.7" y="167.0" font-size="6.4" fill="#fff" textLength="13.4" lengthAdjust="spacingAndGlyphs">SELL</text>
<rect x="856" y="96.7" width="19.399999999999977" height="13.899999999999991" fill="#fff" stroke="#5a8c5a" stroke-width="0.8"/>
<text x="865.7" y="105.95" font-size="6.4" fill="#000" stroke="#000" stroke-width="0.25" textLength="12.3" lengthAdjust="spacingAndGlyphs">LNG</text>
<ellipse cx="869.3" cy="118.2" rx="8.6" ry="6.2" fill="#7fe07f"/>
<text x="869.3" y="120.5" font-size="6.4" fill="#0a1a0a" textLength="10.8" lengthAdjust="spacingAndGlyphs">BUY</text>
<text x="890.8" y="69.6" font-size="6.4" fill="#1010e8" stroke="#1010e8" stroke-width="0.2" textLength="30.8" lengthAdjust="spacingAndGlyphs">END_PEAK</text>
</g>
<g id="channel" stroke="#5d78b8" stroke-width="0.85">
<line x1="884.5" y1="72.4" x2="978.3" y2="107.4"/>
<line x1="885.8" y1="110.4" x2="979" y2="145.6"/>
</g>
<text id="title" x="512" y="15" font-size="11.9" fill="#b22a35" text-anchor="middle" textLength="234" lengthAdjust="spacingAndGlyphs">weekly GC - GC - CME Globex Gold Futures</text>
<g id="rangesel" font-size="7.3" fill="#444">
<text x="38.5" y="40.3" fill="#777" textLength="17.8" lengthAdjust="spacingAndGlyphs">Zoom</text>
<rect x="60" y="31.5" width="15" height="12" rx="1.2" fill="#f7f7f7"/>
<text x="67.5" y="40.3" text-anchor="middle">1m</text>
<rect x="80.5" y="31.5" width="15.5" height="12" rx="1.2" fill="#f7f7f7"/>
<text x="88.25" y="40.3" text-anchor="middle">3m</text>
<rect x="101" y="31.5" width="15.5" height="12" rx="1.2" fill="#f7f7f7"/>
<text x="108.75" y="40.3" text-anchor="middle">6m</text>
<rect x="120.5" y="31.5" width="17.5" height="12" rx="1.2" fill="#f7f7f7"/>
<text x="129.25" y="40.3" text-anchor="middle">YTD</text>
<rect x="142.5" y="31.5" width="14.5" height="12" rx="1.2" fill="#f7f7f7"/>
<text x="149.75" y="40.3" text-anchor="middle">1y</text>
<rect x="160" y="31.5" width="20" height="12" rx="1.2" fill="#f7f7f7"/>
<text x="170.0" y="40.3" text-anchor="middle">Tutti</text>
<text x="852.6" y="40.3" fill="#777" textLength="16.2" lengthAdjust="spacingAndGlyphs">From</text>
<rect x="872.5" y="31.5" width="52.5" height="12" fill="#fff" stroke="#d6d6d6" stroke-width="0.8"/>
<text x="898.7" y="40.3" text-anchor="middle">Oct 8, 2016</text>
<text x="931.5" y="40.3" fill="#777">To</text>
<rect x="943" y="31.5" width="52.5" height="12" fill="#fff" stroke="#d6d6d6" stroke-width="0.8"/>
<text x="969.2" y="40.3" text-anchor="middle">Jan 4, 2021</text>
</g>
<path id="burger" d="M1009,10 h9 M1009,12.8 h9 M1009,15.6 h9" stroke="#555" stroke-width="1.5"/>
<g id="toolbar">
<rect x="6.2" y="7" width="20.5" height="19.2" fill="#f6f6f6"/>
<rect x="6.2" y="40" width="20.5" height="21.8" fill="#f6f6f6"/>
<rect x="6.2" y="64" width="20.5" height="21.8" fill="#f6f6f6"/>
<rect x="6.2" y="88" width="20.5" height="21.8" fill="#f6f6f6"/>
<rect x="6.2" y="112" width="20.5" height="21.8" fill="#f6f6f6"/>
<rect x="6.2" y="136" width="20.5" height="21.8" fill="#f6f6f6"/>
<rect x="6.2" y="160" width="20.5" height="21.8" fill="#f6f6f6"/>
<rect x="6.2" y="194" width="20.5" height="21.8" fill="#f6f6f6"/>
<rect x="6.2" y="218" width="20.5" height="21.8" fill="#f6f6f6"/>
<rect x="6.2" y="251" width="20.5" height="21.8" fill="#f6f6f6"/>
<rect x="6.2" y="275" width="20.5" height="21.8" fill="#f6f6f6"/>
<rect x="6.2" y="299" width="20.5" height="21.8" fill="#f6f6f6"/>
<rect x="6.2" y="332" width="20.5" height="21.8" fill="#f6f6f6"/>
<line x1="6.6" x2="26.4" y1="34.5" y2="34.5" stroke="#dcdcdc" stroke-width="1" stroke-dasharray="2 1.6"/>
<line x1="6.6" x2="26.4" y1="187" y2="187" stroke="#dcdcdc" stroke-width="1" stroke-dasharray="2 1.6"/>
<line x1="6.6" x2="26.4" y1="244.5" y2="244.5" stroke="#dcdcdc" stroke-width="1" stroke-dasharray="2 1.6"/>
<line x1="6.6" x2="26.4" y1="325.5" y2="325.5" stroke="#dcdcdc" stroke-width="1" stroke-dasharray="2 1.6"/>
<path d="M24.9,57.6 v2 h-2" fill="none" stroke="#a0a0a0" stroke-width="0.6"/>
<path d="M24.9,81.6 v2 h-2" fill="none" stroke="#a0a0a0" stroke-width="0.6"/>
<path d="M24.9,105.6 v2 h-2" fill="none" stroke="#a0a0a0" stroke-width="0.6"/>
<path d="M24.9,129.6 v2 h-2" fill="none" stroke="#a0a0a0" stroke-width="0.6"/>
<path d="M24.9,153.6 v2 h-2" fill="none" stroke="#a0a0a0" stroke-width="0.6"/>
<path d="M24.9,211.6 v2 h-2" fill="none" stroke="#a0a0a0" stroke-width="0.6"/>
<path d="M24.9,235.6 v2 h-2" fill="none" stroke="#a0a0a0" stroke-width="0.6"/>
<path d="M24.9,268.6 v2 h-2" fill="none" stroke="#a0a0a0" stroke-width="0.6"/>
<path d="M24.9,316.6 v2 h-2" fill="none" stroke="#a0a0a0" stroke-width="0.6"/>
<path d="M31,7.6 l-1.4,1.4 l1.4,1.4" fill="none" stroke="#c4c4c4" stroke-width="0.6"/>
<g id="icons" transform="translate(-1.6,-0.7)">
<g stroke="#555" fill="none" stroke-width="1" stroke-linecap="round" stroke-linejoin="round" transform="translate(1.6,0.7)" stroke-width="1.15"><path d="M8.5,18.6 C10.5,15.6 12.2,14.6 13.4,15.6 C14.8,16.8 15.2,20.8 17,21.2 C18.4,21.4 19.4,16 20.6,13.8"/><path d="M9.3,20.9 C11,18.2 12.6,17 13.6,17.6 C15,18.6 15.4,21.6 17.6,21.4 C19.4,21.2 21.6,16.8 23.8,13.1"/></g>
<g stroke="#555" fill="none" stroke-width="1" stroke-linecap="round" stroke-linejoin="round"><path d="M10.9,47.9 h13.8 v7.6 h-5 l-1.9,2.1 l-1.9,-2.1 h-5 z"/></g>
<text x="17.8" y="53.8" font-size="4.8" font-weight="bold" fill="#555" text-anchor="middle">TXT</text>
<g stroke="#555" fill="none" stroke-width="1" stroke-linecap="round" stroke-linejoin="round"><path d="M12.3,80.6 L22.8,70.9" stroke-width="1.3"/><circle cx="12.3" cy="80.6" r="0.9" fill="#555"/><circle cx="22.8" cy="70.9" r="0.9" fill="#555"/></g>
<g stroke="#555" fill="none" stroke-width="1" stroke-linecap="round" stroke-linejoin="round"><path d="M11.4,102.6 L18.6,97.6 L22.6,100.6"/></g>
<g font-size="4" font-weight="bold" fill="#555" text-anchor="middle"><text x="18.9" y="95.4">A</text><text x="11.3" y="107.2">B</text><text x="23.2" y="105.2">C</text></g>
<g stroke="#555" fill="none" stroke-width="1" stroke-linecap="round" stroke-linejoin="round"><rect x="10.9" y="116.2" width="13.6" height="13.6" stroke-dasharray="1.7 1.3"/><path d="M17.7,118.4 v9.2 M13.1,123 h9.2"/><path d="M16.6,119.7 l1.1,-1.3 l1.1,1.3 M16.6,126.3 l1.1,1.3 l1.1,-1.3 M14.4,121.9 l-1.3,1.1 l1.3,1.1 M21,121.9 l1.3,1.1 l-1.3,1.1" stroke-width="0.7"/></g>
<g stroke="#555" fill="none" stroke-width="1" stroke-linecap="round" stroke-linejoin="round"><path d="M11,141.7 h13.3 M11,153.4 h13.3" stroke-width="1" stroke="#6a6a6a"/><path d="M11.4,144.6 h12.6 M11.4,147.4 h12.6 M11.4,150.2 h12.6" stroke-dasharray="1.4 1.1" stroke-width="0.85" stroke="#777"/></g>
<g stroke="#555" fill="none" stroke-width="1" stroke-linecap="round" stroke-linejoin="round"><path d="M11.5,170.8 c2.8,-4 8.8,-4 11.6,0 c-2.8,4 -8.8,4 -11.6,0 z" stroke-width="0.85"/><circle cx="17.3" cy="170.8" r="1.9" stroke-width="0.85"/><path d="M12.6,176.2 L22.8,166" stroke-width="0.9"/></g>
<g stroke="#555" fill="none" stroke-width="1" stroke-linecap="round" stroke-linejoin="round"><path d="M17.3,201.6 v8"/><path d="M15.9,208.4 l1.4,2.2 l1.4,-2.2 z" fill="#555" stroke-width="0.6"/></g>
<text x="17.3" y="200.6" font-size="3.8" font-weight="bold" fill="#555" text-anchor="middle">123</text>
<g stroke="#555" fill="none" stroke-width="1" stroke-linecap="round" stroke-linejoin="round"><ellipse cx="17" cy="233.2" rx="5.5" ry="2.3" stroke-width="1.15"/><path d="M16.5,233 V222.2 M16.5,222.6 h6.2 l-1.7,2.7 l1.7,2.7 h-6.2" stroke-width="1.1"/></g>
<g stroke="#555" fill="none" stroke-width="1" stroke-linecap="round" stroke-linejoin="round"><circle cx="17.4" cy="261.4" r="3.8"/><path d="M20.2,264.2 L23.8,268" stroke-width="1.4"/><path d="M17.4,259.4 v4 M15.4,261.4 h4 M11,261.4 h2.2 M21.6,261.4 h2.4 M17.4,255.6 v1.6" stroke-width="0.9"/></g>
<g stroke="#555" fill="none" stroke-width="1" stroke-linecap="round" stroke-linejoin="round"><path d="M13,281 l3.2,3.2 M22.6,281 l-3.2,3.2 M13,290.8 l3.2,-3.2 M22.6,290.8 l-3.2,-3.2" stroke-width="1.1"/><path d="M12.8,283.2 v-2.4 h2.4 M22.8,283.2 v-2.4 h-2.4 M12.8,288.6 v2.4 h2.4 M22.8,288.6 v2.4 h-2.4" stroke-width="1"/></g>
<g stroke="#555" fill="none" stroke-width="1" stroke-linecap="round" stroke-linejoin="round"><path d="M12,304 v8.2 M10.4,306.6 h1.6 M12,310 h1.8 M17.4,307 v8.6 M15.6,309.6 h1.8 M17.4,313.2 h1.8 M22,303 v11 M20.2,309.4 h1.8 M22,305.6 h1.8" stroke-width="1.1"/></g>
<g stroke="#555" fill="none" stroke-width="1" stroke-linecap="round" stroke-linejoin="round"><path d="M11,340.2 c2,-2.8 6,-2.8 8,0 c-2,2.4 -6,2.4 -8,0 z" stroke-width="0.8"/><circle cx="15" cy="340.1" r="0.9" fill="#555"/><path d="M14.2,343.2 h11 v6.6 h-11 l-3.2,-3.3 z"/></g>
<text x="19.8" y="348.2" font-size="4" font-weight="bold" fill="#555" text-anchor="middle">16.2</text>
</g>
</g>
<g id="notes">
<path d="M765,65.2 H855.2 V60 L866.2,71 L855.2,81.9 V76.6 H765 z" fill="#4472c4" stroke="#2f5597" stroke-width="0.7"/>
<rect x="606.7" y="65.2" width="159.1" height="71.2" fill="#4472c4" stroke="#2f5597" stroke-width="0.9"/>
<g font-size="16.7" fill="#fff" text-anchor="middle">
<text x="685.7" y="84" textLength="139.7" lengthAdjust="spacingAndGlyphs">Primo tentativo di</text><text x="686.1" y="107.7" textLength="131.8" lengthAdjust="spacingAndGlyphs">superamento dei</text><text x="685.7" y="130.8" textLength="66.5" lengthAdjust="spacingAndGlyphs">massimi.</text>
</g>
<path d="M983.6,218.5 V127.5 H978.3 L989.3,116.4 L1000.3,127.5 H995.4 V218.5 z" fill="#4472c4" stroke="#2f5597" stroke-width="0.7"/>
<rect x="836" y="218" width="159.4" height="71.4" fill="#4472c4" stroke="#2f5597" stroke-width="0.9"/>
<g font-size="16.7" fill="#fff" text-anchor="middle">
<text x="915" y="238.1" textLength="103.3" lengthAdjust="spacingAndGlyphs">Rottura verso</text><text x="915" y="260.5" textLength="118.2" lengthAdjust="spacingAndGlyphs">l’alto del canale</text><text x="914.5" y="282.9" textLength="93.8" lengthAdjust="spacingAndGlyphs">discendente</text>
</g>
</g>
</svg>
</body></html>
